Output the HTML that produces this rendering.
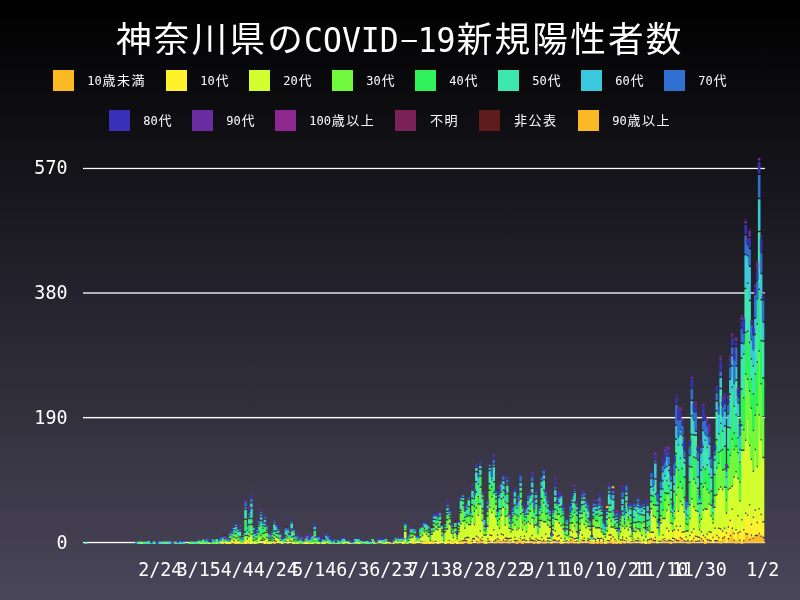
<!DOCTYPE html>
<html lang="ja"><head><meta charset="utf-8"><title>神奈川県のCOVID-19新規陽性者数</title>
<style>
html,body{margin:0;padding:0;}
body{width:800px;height:600px;overflow:hidden;background:#000 linear-gradient(to bottom,#000000,#4a465a);position:relative;}
svg{position:absolute;left:0;top:0;display:block;}
text{fill:#fff;}
.l{font-family:"DejaVu Sans Mono","Liberation Mono",monospace;}
.j{font-family:"Noto Sans CJK JP","IPAGothic",sans-serif;}
</style></head><body>
<svg width="800" height="600" viewBox="0 0 800 600">
<text class="j" x="115.89" y="51.50" font-size="35.59" letter-spacing="2.27">神奈川県の</text><text class="l" transform="translate(304.05,52.10) scale(1,1.045)" font-size="31.45">COVID</text><text class="l" text-anchor="middle" transform="translate(408.17,52.10) scale(1.9,0.8) translate(0.5,-5.03)" font-size="31.45">-</text><text class="l" transform="translate(417.63,52.10) scale(1,1.045)" font-size="31.45">19</text><text class="j" x="456.63" y="51.50" font-size="35.59" letter-spacing="2.27">新規陽性者数</text>
<rect x="53" y="70" width="21" height="21" fill="#FDB924"/><text class="l" x="87.20" y="84.90" font-size="12.04">10</text><text class="j" x="102.42" y="84.60" font-size="13.05" letter-spacing="1.45">歳未満</text>
<rect x="166" y="70" width="21" height="21" fill="#FFF22D"/><text class="l" x="200.20" y="84.90" font-size="12.04">10</text><text class="j" x="215.42" y="84.60" font-size="13.05" letter-spacing="1.45">代</text>
<rect x="249" y="70" width="21" height="21" fill="#D2FF2D"/><text class="l" x="283.20" y="84.90" font-size="12.04">20</text><text class="j" x="298.43" y="84.60" font-size="13.05" letter-spacing="1.45">代</text>
<rect x="332" y="70" width="21" height="21" fill="#70F93C"/><text class="l" x="366.20" y="84.90" font-size="12.04">30</text><text class="j" x="381.43" y="84.60" font-size="13.05" letter-spacing="1.45">代</text>
<rect x="415" y="70" width="21" height="21" fill="#30F25A"/><text class="l" x="449.20" y="84.90" font-size="12.04">40</text><text class="j" x="464.43" y="84.60" font-size="13.05" letter-spacing="1.45">代</text>
<rect x="498" y="70" width="21" height="21" fill="#3CE8B0"/><text class="l" x="532.20" y="84.90" font-size="12.04">50</text><text class="j" x="547.43" y="84.60" font-size="13.05" letter-spacing="1.45">代</text>
<rect x="581" y="70" width="21" height="21" fill="#3AC8DC"/><text class="l" x="615.20" y="84.90" font-size="12.04">60</text><text class="j" x="630.43" y="84.60" font-size="13.05" letter-spacing="1.45">代</text>
<rect x="664" y="70" width="21" height="21" fill="#3070D0"/><text class="l" x="698.20" y="84.90" font-size="12.04">70</text><text class="j" x="713.43" y="84.60" font-size="13.05" letter-spacing="1.45">代</text>
<rect x="109" y="110" width="21" height="21" fill="#3830B8"/><text class="l" x="143.20" y="124.90" font-size="12.04">80</text><text class="j" x="158.42" y="124.60" font-size="13.05" letter-spacing="1.45">代</text>
<rect x="192" y="110" width="21" height="21" fill="#6A2CA0"/><text class="l" x="226.20" y="124.90" font-size="12.04">90</text><text class="j" x="241.42" y="124.60" font-size="13.05" letter-spacing="1.45">代</text>
<rect x="275" y="110" width="21" height="21" fill="#8E2890"/><text class="l" x="309.20" y="124.90" font-size="12.04">100</text><text class="j" x="331.68" y="124.60" font-size="13.05" letter-spacing="1.45">歳以上</text>
<rect x="395" y="110" width="21" height="21" fill="#7A2258"/><text class="j" x="429.93" y="124.60" font-size="13.05" letter-spacing="1.45">不明</text>
<rect x="479" y="110" width="21" height="21" fill="#601C1C"/><text class="j" x="513.93" y="124.60" font-size="13.05" letter-spacing="1.45">非公表</text>
<rect x="578" y="110" width="21" height="21" fill="#FDB924"/><text class="l" x="612.20" y="124.90" font-size="12.04">90</text><text class="j" x="627.43" y="124.60" font-size="13.05" letter-spacing="1.45">歳以上</text>
<text class="l" transform="translate(34.35,173.85) scale(1,1.045)" font-size="18.36">570</text>
<text class="l" transform="translate(34.35,298.85) scale(1,1.045)" font-size="18.36">380</text>
<text class="l" transform="translate(34.35,423.85) scale(1,1.045)" font-size="18.36">190</text>
<text class="l" transform="translate(56.45,548.85) scale(1,1.045)" font-size="18.36">0</text>
<text class="l" transform="translate(138.20,575.60) scale(1,1.045)" font-size="18.36">2/24</text>
<text class="l" transform="translate(176.70,575.60) scale(1,1.045)" font-size="18.36">3/15</text>
<text class="l" transform="translate(220.73,575.60) scale(1,1.045)" font-size="18.36">4/4</text>
<text class="l" transform="translate(253.70,575.60) scale(1,1.045)" font-size="18.36">4/24</text>
<text class="l" transform="translate(292.20,575.60) scale(1,1.045)" font-size="18.36">5/14</text>
<text class="l" transform="translate(336.23,575.60) scale(1,1.045)" font-size="18.36">6/3</text>
<text class="l" transform="translate(369.20,575.60) scale(1,1.045)" font-size="18.36">6/23</text>
<text class="l" transform="translate(407.70,575.60) scale(1,1.045)" font-size="18.36">7/13</text>
<text class="l" transform="translate(451.73,575.60) scale(1,1.045)" font-size="18.36">8/2</text>
<text class="l" transform="translate(484.70,575.60) scale(1,1.045)" font-size="18.36">8/22</text>
<text class="l" transform="translate(523.20,575.60) scale(1,1.045)" font-size="18.36">9/11</text>
<text class="l" transform="translate(561.70,575.60) scale(1,1.045)" font-size="18.36">10/1</text>
<text class="l" transform="translate(594.67,575.60) scale(1,1.045)" font-size="18.36">10/21</text>
<text class="l" transform="translate(633.17,575.60) scale(1,1.045)" font-size="18.36">11/10</text>
<text class="l" transform="translate(671.67,575.60) scale(1,1.045)" font-size="18.36">11/30</text>
<text class="l" transform="translate(746.25,575.60) scale(1,1.045)" font-size="18.36">1/2</text>
<rect x="83" y="167.85" width="682" height="1.25" fill="#fff"/>
<rect x="83" y="292.35" width="682" height="1.3" fill="#fff"/>
<rect x="83" y="416.95" width="682" height="1.4" fill="#fff"/>
<rect x="83" y="541.85" width="682" height="1.35" fill="#fff"/>
<path fill="#FDB924" d="M221.17 542.20h2.60V544.04h-2.60zM225.02 542.20h2.60V544.04h-2.60zM232.71 542.20h2.60V543.39h-2.60zM234.64 542.20h2.60V544.04h-2.60zM236.56 542.20h2.60V544.04h-2.60zM238.48 542.20h2.60V544.04h-2.60zM242.33 542.20h2.60V544.04h-2.60zM246.18 542.20h2.60V544.04h-2.60zM265.42 542.20h2.60V544.04h-2.60zM269.26 542.20h2.60V544.04h-2.60zM273.11 542.20h2.60V544.04h-2.60zM275.04 542.20h2.60V542.73h-2.60zM307.74 542.20h2.60V544.04h-2.60zM353.91 542.20h2.60V544.04h-2.60zM384.69 542.20h2.60V544.04h-2.60zM388.53 542.20h2.60V544.04h-2.60zM392.38 542.20h2.60V544.04h-2.60zM411.62 542.20h2.60V544.04h-2.60zM423.16 542.20h2.60V544.04h-2.60zM425.08 542.20h2.60V544.04h-2.60zM427.01 542.20h2.60V544.04h-2.60zM428.93 542.20h2.60V544.04h-2.60zM430.85 542.20h2.60V544.04h-2.60zM438.55 542.20h2.60V543.39h-2.60zM446.24 542.20h2.60V543.39h-2.60zM448.17 542.20h2.60V543.39h-2.60zM450.09 542.20h2.60V544.04h-2.60zM452.02 542.20h2.60V544.04h-2.60zM453.94 542.20h2.60V542.73h-2.60zM457.79 542.20h2.60V544.04h-2.60zM459.71 542.20h2.60V544.04h-2.60zM461.63 542.20h2.60V544.04h-2.60zM463.56 540.92h2.60V542.70h-2.60zM465.48 541.57h2.60V542.70h-2.60zM467.41 542.20h2.60V544.04h-2.60zM469.33 542.20h2.60V544.04h-2.60zM471.25 542.20h2.60V542.73h-2.60zM475.10 542.20h2.60V542.73h-2.60zM477.02 542.20h2.60V543.39h-2.60zM478.95 540.26h2.60V542.70h-2.60zM480.87 541.57h2.60V542.70h-2.60zM482.79 542.20h2.60V543.39h-2.60zM484.72 542.20h2.60V544.04h-2.60zM486.64 542.20h2.60V542.73h-2.60zM488.57 542.20h2.60V542.73h-2.60zM492.41 542.20h2.60V542.73h-2.60zM494.34 542.20h2.60V543.39h-2.60zM496.26 539.60h2.60V542.70h-2.60zM498.18 542.20h2.60V542.73h-2.60zM500.11 542.20h2.60V543.39h-2.60zM502.03 540.92h2.60V542.70h-2.60zM503.96 542.20h2.60V542.73h-2.60zM505.88 540.92h2.60V542.70h-2.60zM507.80 542.20h2.60V543.39h-2.60zM509.73 542.20h2.60V542.73h-2.60zM511.65 542.20h2.60V542.73h-2.60zM513.57 541.57h2.60V542.70h-2.60zM515.50 542.20h2.60V544.04h-2.60zM517.42 540.92h2.60V542.70h-2.60zM519.34 538.95h2.60V542.70h-2.60zM521.27 542.20h2.60V544.04h-2.60zM523.19 540.26h2.60V542.70h-2.60zM527.04 542.20h2.60V542.73h-2.60zM528.96 540.92h2.60V542.70h-2.60zM530.89 540.92h2.60V542.70h-2.60zM532.81 542.20h2.60V544.04h-2.60zM534.73 542.20h2.60V542.73h-2.60zM536.66 542.20h2.60V544.04h-2.60zM538.58 542.20h2.60V543.39h-2.60zM540.51 542.20h2.60V542.73h-2.60zM542.43 542.20h2.60V543.39h-2.60zM544.35 542.20h2.60V543.39h-2.60zM546.28 541.57h2.60V542.70h-2.60zM548.20 542.20h2.60V542.73h-2.60zM552.05 540.92h2.60V542.70h-2.60zM553.97 540.92h2.60V542.70h-2.60zM555.90 542.20h2.60V542.73h-2.60zM557.82 541.57h2.60V542.70h-2.60zM559.74 542.20h2.60V544.04h-2.60zM563.59 542.20h2.60V542.73h-2.60zM567.44 542.20h2.60V543.39h-2.60zM569.36 540.92h2.60V542.70h-2.60zM571.28 538.29h2.60V542.70h-2.60zM573.21 542.20h2.60V543.39h-2.60zM575.13 542.20h2.60V542.73h-2.60zM578.98 541.57h2.60V542.70h-2.60zM580.90 540.92h2.60V542.70h-2.60zM582.83 541.57h2.60V542.70h-2.60zM584.75 542.20h2.60V542.73h-2.60zM586.67 541.57h2.60V542.70h-2.60zM588.60 542.20h2.60V543.39h-2.60zM590.52 542.20h2.60V544.04h-2.60zM592.45 542.20h2.60V544.04h-2.60zM594.37 542.20h2.60V542.73h-2.60zM596.29 542.20h2.60V544.04h-2.60zM598.22 541.57h2.60V542.70h-2.60zM600.14 542.20h2.60V544.04h-2.60zM602.06 542.20h2.60V542.73h-2.60zM603.99 542.20h2.60V544.04h-2.60zM605.91 542.20h2.60V543.39h-2.60zM607.84 541.57h2.60V542.70h-2.60zM609.76 539.60h2.60V542.70h-2.60zM611.68 542.20h2.60V544.04h-2.60zM613.61 542.20h2.60V543.39h-2.60zM615.53 542.20h2.60V544.04h-2.60zM619.38 542.20h2.60V544.04h-2.60zM621.30 540.26h2.60V542.70h-2.60zM623.22 542.20h2.60V543.39h-2.60zM625.15 542.20h2.60V542.73h-2.60zM627.07 542.20h2.60V542.73h-2.60zM629.00 542.20h2.60V543.39h-2.60zM630.92 542.20h2.60V542.73h-2.60zM632.84 541.57h2.60V542.70h-2.60zM636.69 541.57h2.60V542.70h-2.60zM638.61 542.20h2.60V542.73h-2.60zM646.31 542.20h2.60V543.39h-2.60zM648.23 542.20h2.60V544.04h-2.60zM650.16 539.60h2.60V542.70h-2.60zM652.08 540.92h2.60V542.70h-2.60zM654.00 541.57h2.60V542.70h-2.60zM655.93 542.20h2.60V543.39h-2.60zM661.70 540.26h2.60V542.70h-2.60zM663.62 540.92h2.60V542.70h-2.60zM665.55 542.20h2.60V542.73h-2.60zM667.47 540.92h2.60V542.70h-2.60zM669.39 542.20h2.60V544.04h-2.60zM671.32 542.20h2.60V542.73h-2.60zM673.24 539.60h2.60V542.70h-2.60zM675.16 540.92h2.60V542.70h-2.60zM677.09 541.57h2.60V542.70h-2.60zM679.01 538.29h2.60V542.70h-2.60zM680.94 539.60h2.60V542.70h-2.60zM682.86 541.57h2.60V542.70h-2.60zM684.78 542.20h2.60V542.73h-2.60zM686.71 542.20h2.60V543.39h-2.60zM688.63 542.20h2.60V543.39h-2.60zM690.55 541.57h2.60V542.70h-2.60zM692.48 538.95h2.60V542.70h-2.60zM694.40 542.20h2.60V542.73h-2.60zM696.33 542.20h2.60V542.73h-2.60zM698.25 541.57h2.60V542.70h-2.60zM700.17 539.60h2.60V542.70h-2.60zM702.10 541.57h2.60V542.70h-2.60zM704.02 542.20h2.60V544.04h-2.60zM705.94 540.26h2.60V542.70h-2.60zM707.87 540.92h2.60V542.70h-2.60zM709.79 541.57h2.60V542.70h-2.60zM713.64 541.57h2.60V542.70h-2.60zM715.56 541.57h2.60V542.70h-2.60zM717.49 538.29h2.60V542.70h-2.60zM719.41 542.20h2.60V543.39h-2.60zM721.33 538.95h2.60V542.70h-2.60zM723.26 537.63h2.60V542.70h-2.60zM727.10 539.60h2.60V542.70h-2.60zM729.03 536.32h2.60V542.70h-2.60zM730.95 529.09h2.60V542.70h-2.60zM732.88 540.92h2.60V542.70h-2.60zM734.80 542.20h2.60V543.39h-2.60zM736.72 533.69h2.60V542.70h-2.60zM738.65 540.92h2.60V542.70h-2.60zM740.57 542.20h2.60V544.04h-2.60zM742.49 541.57h2.60V542.70h-2.60zM744.42 534.35h2.60V542.70h-2.60zM746.34 535.00h2.60V542.70h-2.60zM748.27 540.26h2.60V542.70h-2.60zM750.19 535.66h2.60V542.70h-2.60zM752.11 538.95h2.60V542.70h-2.60zM754.04 536.32h2.60V542.70h-2.60zM755.96 536.32h2.60V542.70h-2.60zM757.88 534.35h2.60V542.70h-2.60zM759.81 536.97h2.60V542.70h-2.60zM761.73 538.29h2.60V542.70h-2.60z"/>
<path fill="#FFF22D" d="M215.40 542.20h2.60V544.04h-2.60zM221.17 541.54h2.60V543.39h-2.60zM225.02 541.54h2.60V543.39h-2.60zM226.94 542.20h2.60V544.04h-2.60zM232.71 540.89h2.60V541.42h-2.60zM234.64 541.54h2.60V543.39h-2.60zM236.56 541.54h2.60V543.39h-2.60zM242.33 541.54h2.60V542.07h-2.60zM244.26 542.20h2.60V544.04h-2.60zM248.10 542.20h2.60V543.39h-2.60zM250.03 542.20h2.60V544.04h-2.60zM251.95 542.20h2.60V543.39h-2.60zM261.57 540.92h2.60V542.70h-2.60zM263.49 542.20h2.60V544.04h-2.60zM267.34 542.20h2.60V544.04h-2.60zM273.11 541.54h2.60V542.07h-2.60zM286.58 542.20h2.60V543.39h-2.60zM290.42 542.20h2.60V542.73h-2.60zM292.35 542.20h2.60V544.04h-2.60zM303.89 542.20h2.60V544.04h-2.60zM305.81 542.20h2.60V544.04h-2.60zM309.66 542.20h2.60V544.04h-2.60zM313.51 542.20h2.60V542.73h-2.60zM317.36 542.20h2.60V544.04h-2.60zM321.20 542.20h2.60V544.04h-2.60zM323.13 542.20h2.60V544.04h-2.60zM402.00 542.20h2.60V544.04h-2.60zM413.54 542.20h2.60V543.39h-2.60zM419.31 542.20h2.60V542.73h-2.60zM421.24 542.20h2.60V543.39h-2.60zM423.16 541.54h2.60V543.39h-2.60zM425.08 541.54h2.60V543.39h-2.60zM428.93 541.54h2.60V543.39h-2.60zM430.85 541.54h2.60V542.73h-2.60zM432.78 542.20h2.60V543.39h-2.60zM434.70 542.20h2.60V542.73h-2.60zM436.63 542.20h2.60V544.04h-2.60zM438.55 540.89h2.60V542.73h-2.60zM444.32 542.20h2.60V544.04h-2.60zM446.24 540.89h2.60V542.73h-2.60zM448.17 540.89h2.60V542.07h-2.60zM450.09 541.54h2.60V543.39h-2.60zM452.02 541.54h2.60V543.39h-2.60zM453.94 540.23h2.60V542.07h-2.60zM455.86 542.20h2.60V544.04h-2.60zM457.79 541.54h2.60V542.73h-2.60zM459.71 541.54h2.60V542.73h-2.60zM461.63 541.54h2.60V542.07h-2.60zM463.56 538.92h2.60V539.45h-2.60zM465.48 538.29h2.60V540.07h-2.60zM467.41 538.29h2.60V542.04h-2.60zM469.33 541.54h2.60V542.73h-2.60zM471.25 539.60h2.60V540.73h-2.60zM473.18 539.60h2.60V542.70h-2.60zM475.10 536.97h2.60V540.73h-2.60zM477.02 538.29h2.60V541.39h-2.60zM478.95 531.72h2.60V538.76h-2.60zM480.87 538.29h2.60V540.07h-2.60zM482.79 540.89h2.60V542.73h-2.60zM484.72 541.54h2.60V543.39h-2.60zM486.64 539.60h2.60V540.73h-2.60zM488.57 535.66h2.60V540.73h-2.60zM490.49 536.32h2.60V542.70h-2.60zM492.41 530.41h2.60V540.73h-2.60zM494.34 540.89h2.60V541.42h-2.60zM496.26 535.66h2.60V538.10h-2.60zM498.18 540.23h2.60V541.42h-2.60zM500.11 535.00h2.60V541.39h-2.60zM502.03 535.66h2.60V539.42h-2.60zM503.96 538.95h2.60V540.73h-2.60zM505.88 538.92h2.60V539.45h-2.60zM507.80 539.60h2.60V541.39h-2.60zM509.73 538.95h2.60V540.73h-2.60zM511.65 540.23h2.60V542.07h-2.60zM513.57 538.29h2.60V540.07h-2.60zM515.50 541.54h2.60V542.07h-2.60zM517.42 538.92h2.60V540.76h-2.60zM519.34 536.95h2.60V538.13h-2.60zM521.27 540.92h2.60V542.04h-2.60zM523.19 536.97h2.60V538.76h-2.60zM525.12 541.57h2.60V542.70h-2.60zM527.04 540.23h2.60V542.07h-2.60zM528.96 538.92h2.60V539.45h-2.60zM530.89 536.32h2.60V539.42h-2.60zM532.81 541.54h2.60V542.07h-2.60zM534.73 539.60h2.60V540.73h-2.60zM536.66 540.92h2.60V542.04h-2.60zM538.58 540.89h2.60V542.07h-2.60zM540.51 538.29h2.60V540.73h-2.60zM542.43 540.89h2.60V541.42h-2.60zM544.35 535.00h2.60V541.39h-2.60zM546.28 538.95h2.60V540.07h-2.60zM548.20 538.95h2.60V540.73h-2.60zM550.12 542.20h2.60V543.39h-2.60zM552.05 535.66h2.60V539.42h-2.60zM553.97 531.72h2.60V539.42h-2.60zM555.90 536.97h2.60V540.73h-2.60zM557.82 536.32h2.60V540.07h-2.60zM559.74 538.95h2.60V542.04h-2.60zM561.67 542.20h2.60V543.39h-2.60zM565.51 541.57h2.60V542.70h-2.60zM569.36 537.63h2.60V539.42h-2.60zM571.28 532.38h2.60V536.79h-2.60zM573.21 539.60h2.60V541.39h-2.60zM575.13 538.95h2.60V540.73h-2.60zM577.06 542.20h2.60V543.39h-2.60zM578.98 539.57h2.60V541.42h-2.60zM580.90 535.66h2.60V539.42h-2.60zM582.83 538.95h2.60V540.07h-2.60zM584.75 540.23h2.60V542.07h-2.60zM586.67 539.57h2.60V540.10h-2.60zM588.60 540.26h2.60V541.39h-2.60zM590.52 541.54h2.60V542.07h-2.60zM592.45 539.60h2.60V542.04h-2.60zM594.37 540.23h2.60V540.76h-2.60zM596.29 538.95h2.60V542.04h-2.60zM598.22 539.57h2.60V540.10h-2.60zM600.14 538.95h2.60V542.04h-2.60zM602.06 540.23h2.60V540.76h-2.60zM603.99 541.54h2.60V543.39h-2.60zM605.91 540.89h2.60V542.07h-2.60zM607.84 535.66h2.60V540.07h-2.60zM609.76 535.66h2.60V538.10h-2.60zM611.68 537.63h2.60V542.04h-2.60zM613.61 540.26h2.60V541.39h-2.60zM615.53 541.54h2.60V542.73h-2.60zM619.38 540.92h2.60V542.04h-2.60zM621.30 537.63h2.60V538.76h-2.60zM623.22 540.89h2.60V542.07h-2.60zM625.15 538.95h2.60V540.73h-2.60zM627.07 540.23h2.60V542.07h-2.60zM629.00 536.97h2.60V541.39h-2.60zM632.84 539.57h2.60V540.76h-2.60zM634.77 541.57h2.60V542.70h-2.60zM636.69 538.95h2.60V540.07h-2.60zM638.61 540.23h2.60V541.42h-2.60zM640.54 542.20h2.60V543.39h-2.60zM642.46 540.92h2.60V542.70h-2.60zM644.39 542.20h2.60V544.04h-2.60zM646.31 540.89h2.60V541.42h-2.60zM648.23 540.26h2.60V542.04h-2.60zM650.16 533.03h2.60V538.10h-2.60zM652.08 533.03h2.60V539.42h-2.60zM654.00 538.29h2.60V540.07h-2.60zM655.93 540.89h2.60V542.73h-2.60zM657.85 542.20h2.60V542.73h-2.60zM659.77 542.20h2.60V542.73h-2.60zM661.70 535.66h2.60V538.76h-2.60zM663.62 538.92h2.60V540.10h-2.60zM665.55 529.09h2.60V540.73h-2.60zM667.47 531.72h2.60V539.42h-2.60zM669.39 541.54h2.60V542.07h-2.60zM671.32 538.95h2.60V540.73h-2.60zM673.24 530.41h2.60V538.10h-2.60zM675.16 527.12h2.60V539.42h-2.60zM677.09 531.06h2.60V540.07h-2.60zM679.01 527.12h2.60V536.79h-2.60zM680.94 533.03h2.60V538.10h-2.60zM682.86 532.38h2.60V540.07h-2.60zM684.78 537.63h2.60V540.73h-2.60zM686.71 540.89h2.60V541.42h-2.60zM688.63 536.32h2.60V541.39h-2.60zM690.55 533.03h2.60V540.07h-2.60zM692.48 529.75h2.60V537.45h-2.60zM694.40 536.97h2.60V540.73h-2.60zM696.33 537.63h2.60V540.73h-2.60zM698.25 538.29h2.60V540.07h-2.60zM700.17 532.38h2.60V538.10h-2.60zM702.10 536.32h2.60V540.07h-2.60zM704.02 538.29h2.60V542.04h-2.60zM705.94 535.00h2.60V538.76h-2.60zM707.87 532.38h2.60V539.42h-2.60zM709.79 533.03h2.60V540.07h-2.60zM711.71 538.29h2.60V542.70h-2.60zM713.64 529.09h2.60V540.07h-2.60zM715.56 536.32h2.60V540.07h-2.60zM717.49 529.09h2.60V536.79h-2.60zM719.41 529.75h2.60V541.39h-2.60zM721.33 531.72h2.60V537.45h-2.60zM723.26 529.09h2.60V536.13h-2.60zM725.18 533.69h2.60V542.70h-2.60zM727.10 527.78h2.60V538.10h-2.60zM729.03 521.21h2.60V534.82h-2.60zM730.95 510.04h2.60V527.59h-2.60zM732.88 534.35h2.60V539.42h-2.60zM734.80 530.41h2.60V541.39h-2.60zM736.72 516.61h2.60V532.19h-2.60zM738.65 532.38h2.60V539.42h-2.60zM740.57 520.55h2.60V542.04h-2.60zM742.49 530.41h2.60V540.07h-2.60zM744.42 513.99h2.60V532.85h-2.60zM746.34 515.96h2.60V533.50h-2.60zM748.27 505.45h2.60V538.76h-2.60zM750.19 525.15h2.60V534.16h-2.60zM752.11 517.93h2.60V537.45h-2.60zM754.04 510.70h2.60V534.82h-2.60zM755.96 523.18h2.60V534.82h-2.60zM757.88 509.39h2.60V532.85h-2.60zM759.81 515.30h2.60V535.47h-2.60zM761.73 522.52h2.60V536.79h-2.60z"/>
<path fill="#D2FF2D" d="M138.45 542.20h2.60V544.04h-2.60zM140.38 542.20h2.60V544.04h-2.60zM161.54 542.20h2.60V544.04h-2.60zM165.38 542.20h2.60V544.04h-2.60zM198.09 542.20h2.60V543.39h-2.60zM200.01 542.20h2.60V544.04h-2.60zM201.93 542.20h2.60V544.04h-2.60zM203.86 542.20h2.60V544.04h-2.60zM207.71 542.20h2.60V544.04h-2.60zM209.63 542.20h2.60V543.39h-2.60zM215.40 541.54h2.60V543.39h-2.60zM219.25 542.20h2.60V543.39h-2.60zM221.17 540.89h2.60V541.42h-2.60zM223.10 542.20h2.60V542.73h-2.60zM228.87 542.20h2.60V544.04h-2.60zM230.79 539.60h2.60V542.70h-2.60zM232.71 537.63h2.60V539.42h-2.60zM234.64 538.95h2.60V541.39h-2.60zM236.56 540.89h2.60V542.07h-2.60zM238.48 541.54h2.60V542.73h-2.60zM240.41 542.20h2.60V544.04h-2.60zM244.26 536.32h2.60V542.04h-2.60zM246.18 539.60h2.60V542.04h-2.60zM248.10 536.97h2.60V541.39h-2.60zM250.03 535.00h2.60V542.04h-2.60zM251.95 540.89h2.60V541.42h-2.60zM253.87 542.20h2.60V544.04h-2.60zM255.80 542.20h2.60V543.39h-2.60zM257.72 536.97h2.60V542.70h-2.60zM259.65 540.92h2.60V542.70h-2.60zM261.57 538.92h2.60V539.45h-2.60zM263.49 540.26h2.60V542.04h-2.60zM265.42 538.29h2.60V542.04h-2.60zM267.34 541.54h2.60V543.39h-2.60zM269.26 541.54h2.60V543.39h-2.60zM271.19 542.20h2.60V542.73h-2.60zM273.11 539.57h2.60V540.10h-2.60zM275.04 537.63h2.60V540.73h-2.60zM276.96 538.95h2.60V542.70h-2.60zM278.88 540.92h2.60V542.70h-2.60zM280.81 542.20h2.60V544.04h-2.60zM284.65 542.20h2.60V542.73h-2.60zM286.58 538.95h2.60V541.39h-2.60zM288.50 541.57h2.60V542.70h-2.60zM290.42 537.63h2.60V540.73h-2.60zM292.35 541.54h2.60V542.73h-2.60zM294.27 542.20h2.60V544.04h-2.60zM296.20 542.20h2.60V544.04h-2.60zM298.12 542.20h2.60V543.39h-2.60zM300.04 542.20h2.60V543.39h-2.60zM303.89 541.54h2.60V542.07h-2.60zM305.81 541.54h2.60V542.07h-2.60zM307.74 541.54h2.60V543.39h-2.60zM309.66 541.54h2.60V543.39h-2.60zM311.59 542.20h2.60V544.04h-2.60zM313.51 538.29h2.60V540.73h-2.60zM317.36 541.54h2.60V543.39h-2.60zM321.20 541.54h2.60V543.39h-2.60zM325.05 540.92h2.60V542.70h-2.60zM326.97 542.20h2.60V543.39h-2.60zM328.90 542.20h2.60V544.04h-2.60zM332.75 542.20h2.60V543.39h-2.60zM334.67 542.20h2.60V544.04h-2.60zM336.59 542.20h2.60V544.04h-2.60zM338.52 542.20h2.60V543.39h-2.60zM342.36 542.20h2.60V544.04h-2.60zM344.29 542.20h2.60V542.73h-2.60zM346.21 542.20h2.60V543.39h-2.60zM348.14 542.20h2.60V544.04h-2.60zM350.06 542.20h2.60V544.04h-2.60zM353.91 541.54h2.60V542.73h-2.60zM355.83 542.20h2.60V543.39h-2.60zM357.75 542.20h2.60V544.04h-2.60zM359.68 542.20h2.60V543.39h-2.60zM365.45 542.20h2.60V544.04h-2.60zM371.22 541.57h2.60V542.70h-2.60zM373.14 542.20h2.60V544.04h-2.60zM375.07 542.20h2.60V543.39h-2.60zM376.99 542.20h2.60V542.73h-2.60zM378.91 540.92h2.60V542.70h-2.60zM380.84 542.20h2.60V543.39h-2.60zM382.76 542.20h2.60V544.04h-2.60zM384.69 541.54h2.60V543.39h-2.60zM390.46 542.20h2.60V543.39h-2.60zM392.38 541.54h2.60V543.39h-2.60zM394.30 540.26h2.60V542.70h-2.60zM396.23 542.20h2.60V543.39h-2.60zM398.15 541.57h2.60V542.70h-2.60zM400.08 542.20h2.60V542.73h-2.60zM402.00 541.54h2.60V542.07h-2.60zM403.92 531.72h2.60V542.70h-2.60zM405.85 542.20h2.60V544.04h-2.60zM407.77 540.92h2.60V542.70h-2.60zM409.69 538.29h2.60V542.70h-2.60zM411.62 537.63h2.60V542.04h-2.60zM413.54 535.66h2.60V541.39h-2.60zM415.47 540.92h2.60V542.70h-2.60zM417.39 540.26h2.60V542.70h-2.60zM419.31 537.63h2.60V540.73h-2.60zM421.24 536.32h2.60V541.39h-2.60zM423.16 532.38h2.60V541.39h-2.60zM425.08 535.00h2.60V541.39h-2.60zM427.01 536.97h2.60V542.04h-2.60zM428.93 540.89h2.60V541.42h-2.60zM430.85 535.00h2.60V540.73h-2.60zM432.78 531.72h2.60V541.39h-2.60zM434.70 529.75h2.60V540.73h-2.60zM436.63 530.41h2.60V542.04h-2.60zM438.55 527.78h2.60V540.73h-2.60zM440.47 536.32h2.60V542.70h-2.60zM442.40 541.57h2.60V542.70h-2.60zM444.32 532.38h2.60V542.04h-2.60zM446.24 529.75h2.60V540.73h-2.60zM448.17 524.49h2.60V540.07h-2.60zM450.09 533.69h2.60V541.39h-2.60zM452.02 538.29h2.60V541.39h-2.60zM453.94 533.03h2.60V540.07h-2.60zM455.86 539.60h2.60V542.04h-2.60zM457.79 532.38h2.60V540.73h-2.60zM459.71 524.49h2.60V540.73h-2.60zM461.63 521.87h2.60V540.07h-2.60zM463.56 529.09h2.60V537.45h-2.60zM465.48 523.18h2.60V536.79h-2.60zM467.41 525.15h2.60V536.79h-2.60zM469.33 525.15h2.60V540.73h-2.60zM471.25 517.27h2.60V538.10h-2.60zM473.18 525.15h2.60V538.10h-2.60zM475.10 508.73h2.60V535.47h-2.60zM477.02 515.96h2.60V536.79h-2.60zM478.95 504.79h2.60V530.22h-2.60zM480.87 521.21h2.60V536.79h-2.60zM482.79 535.66h2.60V540.73h-2.60zM484.72 535.66h2.60V541.39h-2.60zM486.64 527.12h2.60V538.10h-2.60zM488.57 508.07h2.60V534.16h-2.60zM490.49 513.33h2.60V534.82h-2.60zM492.41 509.39h2.60V528.91h-2.60zM494.34 517.27h2.60V539.42h-2.60zM496.26 525.15h2.60V534.16h-2.60zM498.18 529.09h2.60V539.42h-2.60zM500.11 515.96h2.60V533.50h-2.60zM502.03 508.07h2.60V534.16h-2.60zM503.96 525.81h2.60V537.45h-2.60zM505.88 516.61h2.60V537.45h-2.60zM507.80 529.09h2.60V538.10h-2.60zM509.73 532.38h2.60V537.45h-2.60zM511.65 530.41h2.60V540.07h-2.60zM513.57 525.81h2.60V536.79h-2.60zM515.50 530.41h2.60V540.07h-2.60zM517.42 529.09h2.60V538.76h-2.60zM519.34 514.64h2.60V536.13h-2.60zM521.27 530.41h2.60V539.42h-2.60zM523.19 525.15h2.60V535.47h-2.60zM525.12 532.38h2.60V540.07h-2.60zM527.04 522.52h2.60V540.07h-2.60zM528.96 524.49h2.60V537.45h-2.60zM530.89 518.58h2.60V534.82h-2.60zM532.81 527.78h2.60V540.07h-2.60zM534.73 525.81h2.60V538.10h-2.60zM536.66 534.35h2.60V539.42h-2.60zM538.58 527.78h2.60V540.07h-2.60zM540.51 521.21h2.60V536.79h-2.60zM542.43 522.52h2.60V539.42h-2.60zM544.35 522.52h2.60V533.50h-2.60zM546.28 525.81h2.60V537.45h-2.60zM548.20 527.78h2.60V537.45h-2.60zM550.12 540.26h2.60V541.39h-2.60zM552.05 530.41h2.60V534.16h-2.60zM553.97 519.90h2.60V530.22h-2.60zM555.90 520.55h2.60V535.47h-2.60zM557.82 523.84h2.60V534.82h-2.60zM559.74 526.47h2.60V537.45h-2.60zM561.67 529.75h2.60V541.39h-2.60zM563.59 539.60h2.60V540.73h-2.60zM565.51 536.32h2.60V540.07h-2.60zM567.44 538.29h2.60V541.39h-2.60zM569.36 531.06h2.60V536.13h-2.60zM571.28 523.84h2.60V530.88h-2.60zM573.21 527.12h2.60V538.10h-2.60zM575.13 532.38h2.60V537.45h-2.60zM577.06 540.89h2.60V541.42h-2.60zM578.98 531.06h2.60V539.42h-2.60zM580.90 518.58h2.60V534.16h-2.60zM582.83 525.15h2.60V537.45h-2.60zM584.75 528.44h2.60V540.07h-2.60zM586.67 527.12h2.60V538.10h-2.60zM588.60 530.41h2.60V538.76h-2.60zM590.52 539.57h2.60V541.42h-2.60zM592.45 527.12h2.60V538.10h-2.60zM594.37 528.44h2.60V538.76h-2.60zM596.29 528.44h2.60V537.45h-2.60zM598.22 528.44h2.60V538.10h-2.60zM600.14 532.38h2.60V537.45h-2.60zM602.06 535.00h2.60V538.76h-2.60zM603.99 537.63h2.60V541.39h-2.60zM605.91 531.72h2.60V540.07h-2.60zM607.84 518.58h2.60V534.16h-2.60zM609.76 527.78h2.60V534.16h-2.60zM611.68 527.78h2.60V536.13h-2.60zM613.61 529.09h2.60V538.76h-2.60zM615.53 531.72h2.60V540.73h-2.60zM617.45 539.60h2.60V542.70h-2.60zM619.38 532.38h2.60V539.42h-2.60zM621.30 527.12h2.60V536.13h-2.60zM623.22 529.09h2.60V540.07h-2.60zM625.15 527.12h2.60V537.45h-2.60zM627.07 530.41h2.60V540.07h-2.60zM629.00 527.78h2.60V535.47h-2.60zM630.92 539.60h2.60V540.73h-2.60zM632.84 531.72h2.60V538.76h-2.60zM634.77 532.38h2.60V540.07h-2.60zM636.69 529.75h2.60V537.45h-2.60zM638.61 531.72h2.60V539.42h-2.60zM640.54 536.32h2.60V541.39h-2.60zM642.46 528.44h2.60V539.42h-2.60zM644.39 537.63h2.60V542.04h-2.60zM646.31 531.06h2.60V539.42h-2.60zM648.23 532.38h2.60V538.76h-2.60zM650.16 509.39h2.60V531.53h-2.60zM652.08 516.61h2.60V531.53h-2.60zM654.00 517.93h2.60V536.79h-2.60zM655.93 528.44h2.60V540.73h-2.60zM657.85 535.66h2.60V540.73h-2.60zM659.77 523.84h2.60V540.73h-2.60zM661.70 519.24h2.60V534.16h-2.60zM663.62 519.24h2.60V538.10h-2.60zM665.55 511.36h2.60V527.59h-2.60zM667.47 505.45h2.60V530.22h-2.60zM669.39 523.84h2.60V540.07h-2.60zM671.32 531.72h2.60V537.45h-2.60zM673.24 519.24h2.60V528.91h-2.60zM675.16 495.59h2.60V525.62h-2.60zM677.09 512.01h2.60V529.56h-2.60zM679.01 502.16h2.60V525.62h-2.60zM680.94 505.45h2.60V531.53h-2.60zM682.86 512.67h2.60V530.88h-2.60zM684.78 531.72h2.60V536.13h-2.60zM686.71 531.72h2.60V539.42h-2.60zM688.63 519.24h2.60V534.82h-2.60zM690.55 499.53h2.60V531.53h-2.60zM692.48 507.42h2.60V528.25h-2.60zM694.40 511.36h2.60V535.47h-2.60zM696.33 512.01h2.60V536.13h-2.60zM698.25 530.41h2.60V536.79h-2.60zM700.17 519.90h2.60V530.88h-2.60zM702.10 510.70h2.60V534.82h-2.60zM704.02 509.39h2.60V536.79h-2.60zM705.94 510.04h2.60V533.50h-2.60zM707.87 504.79h2.60V530.88h-2.60zM709.79 516.61h2.60V531.53h-2.60zM711.71 523.84h2.60V536.79h-2.60zM713.64 508.07h2.60V527.59h-2.60zM715.56 495.59h2.60V534.82h-2.60zM717.49 490.34h2.60V527.59h-2.60zM719.41 487.71h2.60V528.25h-2.60zM721.33 490.34h2.60V530.22h-2.60zM723.26 487.71h2.60V527.59h-2.60zM725.18 513.99h2.60V532.19h-2.60zM727.10 490.34h2.60V526.28h-2.60zM729.03 489.03h2.60V519.71h-2.60zM730.95 487.05h2.60V508.54h-2.60zM732.88 477.86h2.60V532.85h-2.60zM734.80 472.60h2.60V528.91h-2.60zM736.72 479.17h2.60V515.11h-2.60zM738.65 501.51h2.60V530.88h-2.60zM740.57 450.93h2.60V519.05h-2.60zM742.49 450.93h2.60V528.91h-2.60zM744.42 441.08h2.60V512.49h-2.60zM746.34 418.74h2.60V514.46h-2.60zM748.27 446.33h2.60V503.95h-2.60zM750.19 460.12h2.60V523.65h-2.60zM752.11 471.95h2.60V516.43h-2.60zM754.04 450.27h2.60V509.20h-2.60zM755.96 467.35h2.60V521.68h-2.60zM757.88 415.46h2.60V507.89h-2.60zM759.81 440.42h2.60V513.80h-2.60zM761.73 458.15h2.60V521.02h-2.60z"/>
<path fill="#70F93C" d="M148.07 542.20h2.60V544.04h-2.60zM149.99 542.20h2.60V544.04h-2.60zM163.46 542.20h2.60V544.04h-2.60zM173.08 542.20h2.60V543.39h-2.60zM176.93 542.20h2.60V544.04h-2.60zM180.77 542.20h2.60V543.39h-2.60zM188.47 542.20h2.60V544.04h-2.60zM190.39 542.20h2.60V544.04h-2.60zM196.16 542.20h2.60V544.04h-2.60zM200.01 541.54h2.60V543.39h-2.60zM201.93 541.54h2.60V543.39h-2.60zM205.78 542.20h2.60V544.04h-2.60zM207.71 541.54h2.60V542.73h-2.60zM211.55 542.20h2.60V544.04h-2.60zM213.48 542.20h2.60V544.04h-2.60zM215.40 540.89h2.60V542.07h-2.60zM221.17 538.92h2.60V540.76h-2.60zM223.10 540.23h2.60V541.42h-2.60zM225.02 540.89h2.60V542.07h-2.60zM226.94 541.54h2.60V542.07h-2.60zM228.87 541.54h2.60V542.07h-2.60zM230.79 537.60h2.60V538.79h-2.60zM232.71 534.35h2.60V536.13h-2.60zM234.64 534.35h2.60V537.45h-2.60zM236.56 538.29h2.60V540.07h-2.60zM238.48 540.23h2.60V541.42h-2.60zM240.41 541.54h2.60V543.39h-2.60zM242.33 539.57h2.60V540.76h-2.60zM244.26 532.38h2.60V534.82h-2.60zM246.18 536.32h2.60V538.10h-2.60zM248.10 533.03h2.60V535.47h-2.60zM250.03 525.15h2.60V533.50h-2.60zM251.95 537.63h2.60V539.42h-2.60zM253.87 540.26h2.60V542.04h-2.60zM255.80 539.60h2.60V541.39h-2.60zM257.72 534.97h2.60V536.82h-2.60zM259.65 536.32h2.60V539.42h-2.60zM261.57 534.35h2.60V537.45h-2.60zM263.49 533.69h2.60V538.76h-2.60zM265.42 533.03h2.60V536.79h-2.60zM267.34 540.89h2.60V542.07h-2.60zM269.26 540.89h2.60V541.42h-2.60zM271.19 540.23h2.60V541.42h-2.60zM273.11 536.32h2.60V538.10h-2.60zM275.04 534.35h2.60V536.13h-2.60zM278.88 538.92h2.60V540.10h-2.60zM280.81 540.92h2.60V542.04h-2.60zM282.73 542.20h2.60V542.73h-2.60zM284.65 538.29h2.60V540.73h-2.60zM286.58 536.95h2.60V538.13h-2.60zM288.50 538.29h2.60V540.07h-2.60zM290.42 531.72h2.60V536.13h-2.60zM292.35 540.23h2.60V540.76h-2.60zM294.27 541.54h2.60V543.39h-2.60zM298.12 540.89h2.60V542.73h-2.60zM301.97 542.20h2.60V544.04h-2.60zM303.89 539.57h2.60V540.76h-2.60zM305.81 539.57h2.60V540.76h-2.60zM307.74 540.89h2.60V542.73h-2.60zM311.59 541.54h2.60V542.73h-2.60zM313.51 534.35h2.60V536.79h-2.60zM315.43 542.20h2.60V544.04h-2.60zM321.20 540.89h2.60V542.07h-2.60zM323.13 541.54h2.60V542.73h-2.60zM325.05 538.29h2.60V539.42h-2.60zM326.97 540.89h2.60V542.73h-2.60zM328.90 541.54h2.60V543.39h-2.60zM330.82 542.20h2.60V544.04h-2.60zM332.75 540.89h2.60V542.73h-2.60zM336.59 541.54h2.60V543.39h-2.60zM340.44 542.20h2.60V543.39h-2.60zM342.36 541.54h2.60V542.07h-2.60zM346.21 540.89h2.60V542.07h-2.60zM353.91 540.23h2.60V542.07h-2.60zM355.83 540.89h2.60V542.07h-2.60zM357.75 541.54h2.60V542.73h-2.60zM371.22 539.57h2.60V541.42h-2.60zM373.14 541.54h2.60V543.39h-2.60zM380.84 540.89h2.60V542.73h-2.60zM382.76 541.54h2.60V543.39h-2.60zM392.38 540.89h2.60V542.73h-2.60zM396.23 540.89h2.60V541.42h-2.60zM398.15 539.57h2.60V541.42h-2.60zM400.08 540.23h2.60V541.42h-2.60zM402.00 539.57h2.60V541.42h-2.60zM403.92 528.44h2.60V530.22h-2.60zM405.85 541.54h2.60V543.39h-2.60zM407.77 538.92h2.60V540.10h-2.60zM409.69 534.35h2.60V536.79h-2.60zM411.62 535.00h2.60V536.13h-2.60zM413.54 533.66h2.60V534.19h-2.60zM415.47 538.92h2.60V540.76h-2.60zM417.39 538.26h2.60V540.10h-2.60zM419.31 534.35h2.60V536.13h-2.60zM421.24 530.41h2.60V534.82h-2.60zM423.16 530.38h2.60V531.56h-2.60zM425.08 531.72h2.60V533.50h-2.60zM427.01 533.03h2.60V535.47h-2.60zM428.93 538.29h2.60V539.42h-2.60zM430.85 532.38h2.60V533.50h-2.60zM432.78 527.78h2.60V530.22h-2.60zM434.70 525.15h2.60V528.25h-2.60zM436.63 527.78h2.60V528.91h-2.60zM438.55 521.21h2.60V526.28h-2.60zM440.47 532.38h2.60V534.82h-2.60zM442.40 538.95h2.60V540.07h-2.60zM444.32 529.75h2.60V530.88h-2.60zM446.24 520.55h2.60V528.25h-2.60zM448.17 519.24h2.60V522.99h-2.60zM450.09 531.69h2.60V532.22h-2.60zM452.02 534.35h2.60V536.79h-2.60zM453.94 528.44h2.60V531.53h-2.60zM455.86 536.97h2.60V538.10h-2.60zM457.79 529.75h2.60V530.88h-2.60zM459.71 513.33h2.60V522.99h-2.60zM461.63 506.10h2.60V520.37h-2.60zM463.56 521.21h2.60V527.59h-2.60zM465.48 517.27h2.60V521.68h-2.60zM467.41 516.61h2.60V523.65h-2.60zM469.33 522.52h2.60V523.65h-2.60zM471.25 505.45h2.60V515.77h-2.60zM473.18 512.01h2.60V523.65h-2.60zM475.10 492.97h2.60V507.23h-2.60zM477.02 504.79h2.60V514.46h-2.60zM478.95 487.71h2.60V503.29h-2.60zM480.87 513.99h2.60V519.71h-2.60zM482.79 531.06h2.60V534.16h-2.60zM484.72 531.72h2.60V534.16h-2.60zM486.64 516.61h2.60V525.62h-2.60zM488.57 491.00h2.60V506.57h-2.60zM490.49 497.56h2.60V511.83h-2.60zM492.41 493.62h2.60V507.89h-2.60zM494.34 504.79h2.60V515.77h-2.60zM496.26 521.87h2.60V523.65h-2.60zM498.18 519.90h2.60V527.59h-2.60zM500.11 509.39h2.60V514.46h-2.60zM502.03 498.22h2.60V506.57h-2.60zM503.96 517.27h2.60V524.31h-2.60zM505.88 504.13h2.60V515.11h-2.60zM507.80 523.84h2.60V527.59h-2.60zM509.73 529.75h2.60V530.88h-2.60zM511.65 523.18h2.60V528.91h-2.60zM513.57 514.64h2.60V524.31h-2.60zM515.50 520.55h2.60V528.91h-2.60zM517.42 517.27h2.60V527.59h-2.60zM519.34 499.53h2.60V513.14h-2.60zM521.27 523.18h2.60V528.91h-2.60zM523.19 521.21h2.60V523.65h-2.60zM525.12 523.84h2.60V530.88h-2.60zM527.04 514.64h2.60V521.02h-2.60zM528.96 512.01h2.60V522.99h-2.60zM530.89 502.82h2.60V517.08h-2.60zM532.81 525.78h2.60V526.31h-2.60zM534.73 515.96h2.60V524.31h-2.60zM536.66 532.35h2.60V533.53h-2.60zM538.58 521.21h2.60V526.28h-2.60zM540.51 513.33h2.60V519.71h-2.60zM542.43 503.48h2.60V521.02h-2.60zM544.35 514.64h2.60V521.02h-2.60zM546.28 520.55h2.60V524.31h-2.60zM548.20 521.21h2.60V526.28h-2.60zM550.12 538.26h2.60V540.10h-2.60zM552.05 526.47h2.60V528.91h-2.60zM553.97 510.04h2.60V518.40h-2.60zM555.90 514.64h2.60V519.05h-2.60zM557.82 514.64h2.60V522.34h-2.60zM559.74 517.27h2.60V524.97h-2.60zM561.67 525.15h2.60V528.25h-2.60zM563.59 535.00h2.60V538.10h-2.60zM565.51 529.75h2.60V534.82h-2.60zM567.44 536.29h2.60V538.13h-2.60zM569.36 523.84h2.60V529.56h-2.60zM571.28 517.27h2.60V522.34h-2.60zM573.21 513.33h2.60V525.62h-2.60zM575.13 523.18h2.60V530.88h-2.60zM577.06 538.92h2.60V540.76h-2.60zM578.98 524.49h2.60V529.56h-2.60zM580.90 513.99h2.60V517.08h-2.60zM582.83 512.01h2.60V523.65h-2.60zM584.75 521.87h2.60V526.94h-2.60zM586.67 523.18h2.60V525.62h-2.60zM588.60 527.12h2.60V528.91h-2.60zM590.52 538.92h2.60V540.10h-2.60zM592.45 519.24h2.60V525.62h-2.60zM594.37 521.21h2.60V526.94h-2.60zM596.29 521.87h2.60V526.94h-2.60zM598.22 516.61h2.60V526.94h-2.60zM600.14 529.75h2.60V530.88h-2.60zM602.06 533.00h2.60V533.53h-2.60zM603.99 535.00h2.60V536.13h-2.60zM605.91 526.47h2.60V530.22h-2.60zM607.84 512.67h2.60V517.08h-2.60zM609.76 521.87h2.60V526.28h-2.60zM611.68 517.93h2.60V526.28h-2.60zM613.61 527.09h2.60V527.62h-2.60zM615.53 529.09h2.60V530.22h-2.60zM617.45 536.97h2.60V538.10h-2.60zM619.38 525.15h2.60V530.88h-2.60zM621.30 515.96h2.60V525.62h-2.60zM623.22 524.49h2.60V527.59h-2.60zM625.15 513.33h2.60V525.62h-2.60zM627.07 520.55h2.60V528.91h-2.60zM629.00 524.49h2.60V526.28h-2.60zM630.92 537.60h2.60V538.79h-2.60zM632.84 523.18h2.60V530.22h-2.60zM634.77 528.44h2.60V530.88h-2.60zM636.69 522.52h2.60V528.25h-2.60zM638.61 529.72h2.60V530.25h-2.60zM640.54 523.84h2.60V534.82h-2.60zM642.46 522.52h2.60V526.94h-2.60zM644.39 533.03h2.60V536.13h-2.60zM646.31 528.44h2.60V529.56h-2.60zM648.23 530.38h2.60V531.56h-2.60zM650.16 502.16h2.60V507.89h-2.60zM652.08 505.45h2.60V515.11h-2.60zM654.00 506.10h2.60V516.43h-2.60zM655.93 522.52h2.60V526.94h-2.60zM657.85 533.66h2.60V535.50h-2.60zM659.77 516.61h2.60V522.34h-2.60zM661.70 510.70h2.60V517.74h-2.60zM663.62 500.85h2.60V517.74h-2.60zM665.55 494.28h2.60V509.86h-2.60zM667.47 494.28h2.60V503.95h-2.60zM669.39 512.67h2.60V522.34h-2.60zM671.32 524.49h2.60V530.22h-2.60zM673.24 512.01h2.60V517.74h-2.60zM675.16 468.01h2.60V494.09h-2.60zM677.09 488.37h2.60V510.51h-2.60zM679.01 482.46h2.60V500.66h-2.60zM680.94 489.03h2.60V503.95h-2.60zM682.86 498.22h2.60V511.17h-2.60zM684.78 524.49h2.60V530.22h-2.60zM686.71 525.15h2.60V530.22h-2.60zM688.63 505.45h2.60V517.74h-2.60zM690.55 468.01h2.60V498.03h-2.60zM692.48 479.83h2.60V505.92h-2.60zM694.40 483.77h2.60V509.86h-2.60zM696.33 504.79h2.60V510.51h-2.60zM698.25 522.52h2.60V528.91h-2.60zM700.17 504.13h2.60V518.40h-2.60zM702.10 487.71h2.60V509.20h-2.60zM704.02 483.77h2.60V507.89h-2.60zM705.94 490.34h2.60V508.54h-2.60zM707.87 493.62h2.60V503.29h-2.60zM709.79 506.10h2.60V515.11h-2.60zM711.71 519.90h2.60V522.34h-2.60zM713.64 496.25h2.60V506.57h-2.60zM715.56 468.66h2.60V494.09h-2.60zM717.49 464.07h2.60V488.84h-2.60zM719.41 451.59h2.60V486.21h-2.60zM721.33 470.63h2.60V488.84h-2.60zM723.26 469.98h2.60V486.21h-2.60zM725.18 500.85h2.60V512.49h-2.60zM727.10 468.01h2.60V488.84h-2.60zM729.03 456.18h2.60V487.53h-2.60zM730.95 439.76h2.60V485.55h-2.60zM732.88 450.27h2.60V476.36h-2.60zM734.80 446.99h2.60V471.10h-2.60zM736.72 453.56h2.60V477.67h-2.60zM738.65 483.11h2.60V500.01h-2.60zM740.57 425.97h2.60V449.43h-2.60zM742.49 430.57h2.60V449.43h-2.60zM744.42 374.73h2.60V439.58h-2.60zM746.34 379.99h2.60V417.24h-2.60zM748.27 391.81h2.60V444.83h-2.60zM750.19 408.89h2.60V458.62h-2.60zM752.11 431.22h2.60V470.45h-2.60zM754.04 416.12h2.60V448.77h-2.60zM755.96 405.61h2.60V465.85h-2.60zM757.88 351.75h2.60V413.96h-2.60zM759.81 384.59h2.60V438.92h-2.60zM761.73 417.43h2.60V456.65h-2.60z"/>
<path fill="#30F25A" d="M142.30 542.20h2.60V544.04h-2.60zM144.22 542.20h2.60V544.04h-2.60zM148.07 541.54h2.60V543.39h-2.60zM151.92 542.20h2.60V544.04h-2.60zM153.84 542.20h2.60V544.04h-2.60zM169.23 542.20h2.60V544.04h-2.60zM178.85 542.20h2.60V544.04h-2.60zM190.39 541.54h2.60V543.39h-2.60zM194.24 542.20h2.60V544.04h-2.60zM200.01 540.89h2.60V542.73h-2.60zM201.93 540.89h2.60V542.07h-2.60zM205.78 541.54h2.60V542.07h-2.60zM211.55 541.54h2.60V542.73h-2.60zM215.40 539.57h2.60V541.42h-2.60zM217.32 542.20h2.60V544.04h-2.60zM223.10 538.92h2.60V539.45h-2.60zM226.94 539.57h2.60V541.42h-2.60zM228.87 539.57h2.60V540.10h-2.60zM230.79 536.29h2.60V537.47h-2.60zM232.71 532.35h2.60V533.53h-2.60zM234.64 531.06h2.60V532.85h-2.60zM236.56 536.29h2.60V537.47h-2.60zM238.48 537.63h2.60V539.42h-2.60zM240.41 540.89h2.60V542.07h-2.60zM242.33 536.97h2.60V538.76h-2.60zM244.26 519.90h2.60V530.88h-2.60zM248.10 525.15h2.60V531.53h-2.60zM250.03 519.24h2.60V523.65h-2.60zM251.95 534.35h2.60V536.13h-2.60zM253.87 538.26h2.60V539.45h-2.60zM255.80 535.66h2.60V538.10h-2.60zM257.72 532.38h2.60V534.82h-2.60zM259.65 521.21h2.60V534.82h-2.60zM261.57 529.09h2.60V532.85h-2.60zM263.49 527.12h2.60V532.19h-2.60zM265.42 531.03h2.60V531.56h-2.60zM267.34 538.95h2.60V540.07h-2.60zM269.26 538.92h2.60V539.45h-2.60zM271.19 538.29h2.60V539.42h-2.60zM273.11 531.72h2.60V534.82h-2.60zM275.04 531.72h2.60V532.85h-2.60zM276.96 534.35h2.60V537.45h-2.60zM278.88 537.60h2.60V538.79h-2.60zM280.81 538.92h2.60V540.76h-2.60zM282.73 540.23h2.60V542.07h-2.60zM284.65 536.29h2.60V536.82h-2.60zM286.58 533.69h2.60V536.13h-2.60zM288.50 536.29h2.60V538.13h-2.60zM290.42 529.72h2.60V530.25h-2.60zM292.35 536.97h2.60V538.76h-2.60zM294.27 540.26h2.60V541.39h-2.60zM296.20 540.92h2.60V542.04h-2.60zM298.12 540.23h2.60V540.76h-2.60zM300.04 540.89h2.60V542.73h-2.60zM305.81 538.26h2.60V539.45h-2.60zM309.66 540.89h2.60V542.73h-2.60zM311.59 540.23h2.60V541.42h-2.60zM313.51 532.35h2.60V534.19h-2.60zM315.43 539.60h2.60V542.04h-2.60zM317.36 540.89h2.60V542.07h-2.60zM319.28 542.20h2.60V543.39h-2.60zM321.20 539.57h2.60V541.42h-2.60zM323.13 540.23h2.60V542.07h-2.60zM325.05 536.29h2.60V538.13h-2.60zM326.97 540.23h2.60V542.07h-2.60zM328.90 540.89h2.60V542.07h-2.60zM334.67 541.54h2.60V543.39h-2.60zM336.59 540.89h2.60V542.73h-2.60zM340.44 540.89h2.60V542.73h-2.60zM342.36 539.57h2.60V541.42h-2.60zM344.29 540.23h2.60V542.07h-2.60zM348.14 541.54h2.60V542.73h-2.60zM351.98 542.20h2.60V544.04h-2.60zM353.91 539.57h2.60V541.42h-2.60zM359.68 540.89h2.60V542.73h-2.60zM363.53 542.20h2.60V544.04h-2.60zM365.45 541.54h2.60V543.39h-2.60zM369.30 542.20h2.60V544.04h-2.60zM371.22 538.92h2.60V540.76h-2.60zM382.76 540.89h2.60V542.73h-2.60zM384.69 540.89h2.60V541.42h-2.60zM392.38 540.23h2.60V542.07h-2.60zM394.30 538.26h2.60V540.10h-2.60zM396.23 538.92h2.60V540.76h-2.60zM400.08 538.92h2.60V540.76h-2.60zM402.00 538.92h2.60V540.76h-2.60zM403.92 526.44h2.60V528.28h-2.60zM405.85 540.89h2.60V542.73h-2.60zM407.77 537.60h2.60V538.79h-2.60zM409.69 531.06h2.60V532.85h-2.60zM411.62 532.38h2.60V533.50h-2.60zM413.54 531.69h2.60V532.88h-2.60zM415.47 538.26h2.60V539.45h-2.60zM417.39 537.60h2.60V539.45h-2.60zM419.31 532.35h2.60V534.19h-2.60zM421.24 528.41h2.60V530.25h-2.60zM423.16 529.06h2.60V529.59h-2.60zM425.08 527.12h2.60V530.22h-2.60zM427.01 530.41h2.60V531.53h-2.60zM428.93 536.29h2.60V537.47h-2.60zM430.85 530.38h2.60V531.56h-2.60zM432.78 523.84h2.60V526.28h-2.60zM434.70 520.55h2.60V523.65h-2.60zM436.63 524.49h2.60V526.28h-2.60zM438.55 516.61h2.60V519.71h-2.60zM440.47 530.38h2.60V530.91h-2.60zM442.40 536.95h2.60V538.79h-2.60zM444.32 527.12h2.60V528.25h-2.60zM446.24 514.64h2.60V519.05h-2.60zM448.17 516.61h2.60V517.74h-2.60zM450.09 528.44h2.60V530.22h-2.60zM452.02 532.35h2.60V532.88h-2.60zM453.94 525.15h2.60V526.94h-2.60zM455.86 534.97h2.60V535.50h-2.60zM457.79 527.12h2.60V528.25h-2.60zM459.71 510.70h2.60V511.83h-2.60zM461.63 501.51h2.60V504.60h-2.60zM463.56 517.93h2.60V519.71h-2.60zM465.48 515.27h2.60V515.80h-2.60zM467.41 507.42h2.60V515.11h-2.60zM469.33 516.61h2.60V521.02h-2.60zM471.25 498.88h2.60V503.95h-2.60zM473.18 506.76h2.60V510.51h-2.60zM475.10 482.46h2.60V491.47h-2.60zM477.02 497.56h2.60V503.29h-2.60zM478.95 476.55h2.60V486.21h-2.60zM480.87 509.39h2.60V512.49h-2.60zM482.79 527.12h2.60V529.56h-2.60zM484.72 529.72h2.60V530.91h-2.60zM486.64 512.01h2.60V515.11h-2.60zM488.57 484.43h2.60V489.50h-2.60zM490.49 487.71h2.60V496.06h-2.60zM492.41 482.46h2.60V492.12h-2.60zM494.34 499.53h2.60V503.29h-2.60zM496.26 516.61h2.60V520.37h-2.60zM498.18 509.39h2.60V518.40h-2.60zM500.11 499.53h2.60V507.89h-2.60zM502.03 491.00h2.60V496.72h-2.60zM503.96 510.04h2.60V515.77h-2.60zM505.88 494.28h2.60V502.63h-2.60zM507.80 518.58h2.60V522.34h-2.60zM509.73 527.12h2.60V528.25h-2.60zM511.65 516.61h2.60V521.68h-2.60zM513.57 506.10h2.60V513.14h-2.60zM515.50 515.96h2.60V519.05h-2.60zM517.42 508.73h2.60V515.77h-2.60zM519.34 492.31h2.60V498.03h-2.60zM521.27 513.33h2.60V521.68h-2.60zM523.19 517.27h2.60V519.71h-2.60zM525.12 517.93h2.60V522.34h-2.60zM527.04 511.36h2.60V513.14h-2.60zM528.96 504.79h2.60V510.51h-2.60zM530.89 494.28h2.60V501.32h-2.60zM532.81 519.24h2.60V524.31h-2.60zM534.73 504.13h2.60V514.46h-2.60zM536.66 529.09h2.60V531.53h-2.60zM538.58 515.96h2.60V519.71h-2.60zM540.51 499.53h2.60V511.83h-2.60zM542.43 491.00h2.60V501.98h-2.60zM544.35 506.76h2.60V513.14h-2.60zM546.28 513.99h2.60V519.05h-2.60zM548.20 515.96h2.60V519.71h-2.60zM550.12 536.32h2.60V538.10h-2.60zM552.05 518.58h2.60V524.97h-2.60zM553.97 503.48h2.60V508.54h-2.60zM555.90 511.36h2.60V513.14h-2.60zM557.82 508.07h2.60V513.14h-2.60zM559.74 507.42h2.60V515.77h-2.60zM561.67 515.96h2.60V523.65h-2.60zM563.59 533.00h2.60V534.19h-2.60zM565.51 525.81h2.60V528.25h-2.60zM567.44 535.63h2.60V537.47h-2.60zM569.36 518.58h2.60V522.34h-2.60zM571.28 510.04h2.60V515.77h-2.60zM573.21 503.48h2.60V511.83h-2.60zM575.13 515.96h2.60V521.68h-2.60zM577.06 538.26h2.60V538.79h-2.60zM578.98 519.24h2.60V522.99h-2.60zM580.90 505.45h2.60V512.49h-2.60zM582.83 504.79h2.60V510.51h-2.60zM584.75 515.96h2.60V520.37h-2.60zM586.67 519.24h2.60V521.68h-2.60zM588.60 524.49h2.60V525.62h-2.60zM590.52 537.60h2.60V539.45h-2.60zM592.45 517.24h2.60V517.77h-2.60zM594.37 515.30h2.60V519.71h-2.60zM596.29 514.64h2.60V520.37h-2.60zM598.22 509.39h2.60V515.11h-2.60zM600.14 515.96h2.60V528.25h-2.60zM602.06 531.03h2.60V532.22h-2.60zM603.99 530.41h2.60V533.50h-2.60zM605.91 519.90h2.60V524.97h-2.60zM607.84 506.10h2.60V511.17h-2.60zM609.76 512.67h2.60V520.37h-2.60zM611.68 511.36h2.60V516.43h-2.60zM613.61 525.12h2.60V525.65h-2.60zM615.53 523.18h2.60V527.59h-2.60zM617.45 533.69h2.60V535.47h-2.60zM619.38 521.87h2.60V523.65h-2.60zM621.30 512.01h2.60V514.46h-2.60zM623.22 522.49h2.60V523.02h-2.60zM625.15 502.16h2.60V511.83h-2.60zM627.07 517.93h2.60V519.05h-2.60zM629.00 515.96h2.60V522.99h-2.60zM630.92 535.00h2.60V536.79h-2.60zM632.84 517.93h2.60V521.68h-2.60zM634.77 523.18h2.60V526.94h-2.60zM636.69 513.99h2.60V521.02h-2.60zM638.61 522.52h2.60V528.25h-2.60zM640.54 515.30h2.60V522.34h-2.60zM642.46 515.96h2.60V521.02h-2.60zM646.31 521.21h2.60V526.94h-2.60zM648.23 527.12h2.60V529.56h-2.60zM650.16 496.25h2.60V500.66h-2.60zM652.08 496.91h2.60V503.95h-2.60zM654.00 494.94h2.60V504.60h-2.60zM655.93 512.01h2.60V521.02h-2.60zM657.85 531.06h2.60V533.50h-2.60zM659.77 502.82h2.60V515.11h-2.60zM661.70 489.68h2.60V509.20h-2.60zM663.62 493.62h2.60V499.35h-2.60zM665.55 481.14h2.60V492.78h-2.60zM667.47 486.40h2.60V492.78h-2.60zM669.39 500.19h2.60V511.17h-2.60zM671.32 516.61h2.60V522.99h-2.60zM673.24 492.31h2.60V510.51h-2.60zM675.16 454.21h2.60V466.51h-2.60zM677.09 470.63h2.60V486.87h-2.60zM679.01 458.81h2.60V480.96h-2.60zM680.94 469.32h2.60V487.53h-2.60zM682.86 477.86h2.60V496.72h-2.60zM684.78 519.90h2.60V522.99h-2.60zM686.71 516.61h2.60V523.65h-2.60zM688.63 483.11h2.60V503.95h-2.60zM690.55 435.16h2.60V466.51h-2.60zM692.48 457.50h2.60V478.33h-2.60zM694.40 458.81h2.60V482.27h-2.60zM696.33 489.03h2.60V503.29h-2.60zM698.25 515.96h2.60V521.02h-2.60zM700.17 484.43h2.60V502.63h-2.60zM702.10 468.01h2.60V486.21h-2.60zM704.02 469.98h2.60V482.27h-2.60zM705.94 465.38h2.60V488.84h-2.60zM707.87 475.23h2.60V492.12h-2.60zM709.79 491.65h2.60V504.60h-2.60zM711.71 513.99h2.60V518.40h-2.60zM713.64 475.23h2.60V494.75h-2.60zM715.56 440.42h2.60V467.16h-2.60zM717.49 452.90h2.60V462.57h-2.60zM719.41 424.00h2.60V450.09h-2.60zM721.33 450.27h2.60V469.13h-2.60zM723.26 446.99h2.60V468.48h-2.60zM725.18 488.37h2.60V499.35h-2.60zM727.10 450.27h2.60V466.51h-2.60zM729.03 428.60h2.60V454.68h-2.60zM730.95 387.87h2.60V438.26h-2.60zM732.88 433.85h2.60V448.77h-2.60zM734.80 415.46h2.60V445.49h-2.60zM736.72 438.45h2.60V452.06h-2.60zM738.65 462.75h2.60V481.61h-2.60zM740.57 389.84h2.60V424.47h-2.60zM742.49 398.38h2.60V429.07h-2.60zM744.42 333.35h2.60V373.23h-2.60zM746.34 332.04h2.60V378.49h-2.60zM748.27 343.21h2.60V390.31h-2.60zM750.19 379.99h2.60V407.39h-2.60zM752.11 394.44h2.60V429.72h-2.60zM754.04 374.73h2.60V414.62h-2.60zM755.96 362.91h2.60V404.11h-2.60zM757.88 290.00h2.60V350.25h-2.60zM759.81 341.24h2.60V383.09h-2.60zM761.73 378.68h2.60V415.93h-2.60z"/>
<path fill="#3CE8B0" d="M84.59 542.20h2.60V544.04h-2.60zM136.53 542.20h2.60V544.04h-2.60zM138.45 541.54h2.60V543.39h-2.60zM146.15 542.20h2.60V544.04h-2.60zM148.07 540.89h2.60V542.73h-2.60zM151.92 541.54h2.60V543.39h-2.60zM159.61 542.20h2.60V544.04h-2.60zM165.38 541.54h2.60V543.39h-2.60zM167.31 542.20h2.60V544.04h-2.60zM178.85 541.54h2.60V543.39h-2.60zM192.32 542.20h2.60V544.04h-2.60zM196.16 541.54h2.60V543.39h-2.60zM198.09 540.89h2.60V542.07h-2.60zM201.93 539.57h2.60V541.42h-2.60zM203.86 541.54h2.60V543.39h-2.60zM211.55 540.23h2.60V542.07h-2.60zM215.40 538.92h2.60V540.10h-2.60zM217.32 541.54h2.60V543.39h-2.60zM219.25 540.89h2.60V542.07h-2.60zM221.17 538.26h2.60V539.45h-2.60zM223.10 536.95h2.60V537.47h-2.60zM225.02 539.57h2.60V540.76h-2.60zM228.87 536.32h2.60V538.10h-2.60zM230.79 533.69h2.60V535.47h-2.60zM232.71 529.75h2.60V531.53h-2.60zM234.64 527.12h2.60V529.56h-2.60zM236.56 531.72h2.60V535.47h-2.60zM238.48 531.72h2.60V536.13h-2.60zM240.41 539.57h2.60V540.76h-2.60zM242.33 534.97h2.60V535.50h-2.60zM244.26 510.04h2.60V518.40h-2.60zM246.18 531.06h2.60V534.82h-2.60zM248.10 519.24h2.60V523.65h-2.60zM250.03 508.73h2.60V517.74h-2.60zM251.95 531.72h2.60V532.85h-2.60zM253.87 535.66h2.60V537.45h-2.60zM255.80 533.03h2.60V534.16h-2.60zM257.72 527.12h2.60V530.88h-2.60zM259.65 517.27h2.60V519.71h-2.60zM261.57 526.47h2.60V527.59h-2.60zM263.49 523.84h2.60V525.62h-2.60zM265.42 528.44h2.60V529.56h-2.60zM267.34 536.32h2.60V537.45h-2.60zM269.26 536.95h2.60V537.47h-2.60zM271.19 535.00h2.60V536.79h-2.60zM273.11 524.49h2.60V530.22h-2.60zM275.04 528.44h2.60V530.22h-2.60zM276.96 531.06h2.60V532.85h-2.60zM278.88 536.29h2.60V537.47h-2.60zM280.81 538.26h2.60V540.10h-2.60zM282.73 539.57h2.60V540.76h-2.60zM284.65 531.72h2.60V534.82h-2.60zM286.58 531.69h2.60V532.88h-2.60zM288.50 535.63h2.60V537.47h-2.60zM290.42 523.84h2.60V528.25h-2.60zM292.35 532.38h2.60V535.47h-2.60zM294.27 538.26h2.60V539.45h-2.60zM296.20 538.92h2.60V539.45h-2.60zM300.04 540.23h2.60V541.42h-2.60zM301.97 541.54h2.60V542.07h-2.60zM303.89 538.26h2.60V540.10h-2.60zM305.81 536.95h2.60V538.79h-2.60zM307.74 540.23h2.60V541.42h-2.60zM309.66 539.60h2.60V540.73h-2.60zM311.59 538.29h2.60V539.42h-2.60zM313.51 531.06h2.60V532.19h-2.60zM315.43 537.60h2.60V539.45h-2.60zM317.36 538.95h2.60V540.07h-2.60zM321.20 538.92h2.60V540.76h-2.60zM326.97 539.57h2.60V540.76h-2.60zM328.90 539.57h2.60V541.42h-2.60zM332.75 540.23h2.60V542.07h-2.60zM336.59 540.23h2.60V542.07h-2.60zM338.52 540.89h2.60V542.73h-2.60zM340.44 540.23h2.60V542.07h-2.60zM342.36 538.92h2.60V540.10h-2.60zM350.06 541.54h2.60V543.39h-2.60zM351.98 541.54h2.60V543.39h-2.60zM355.83 539.57h2.60V541.42h-2.60zM357.75 540.23h2.60V541.42h-2.60zM359.68 540.23h2.60V541.42h-2.60zM365.45 540.89h2.60V542.73h-2.60zM367.37 542.20h2.60V544.04h-2.60zM369.30 541.54h2.60V543.39h-2.60zM373.14 540.89h2.60V542.73h-2.60zM380.84 540.23h2.60V541.42h-2.60zM384.69 538.92h2.60V540.76h-2.60zM396.23 538.26h2.60V540.10h-2.60zM398.15 538.92h2.60V540.76h-2.60zM402.00 538.26h2.60V540.10h-2.60zM403.92 525.78h2.60V526.97h-2.60zM405.85 540.23h2.60V540.76h-2.60zM407.77 536.29h2.60V536.82h-2.60zM411.62 530.38h2.60V531.56h-2.60zM413.54 530.38h2.60V531.56h-2.60zM415.47 536.95h2.60V538.13h-2.60zM419.31 528.44h2.60V532.19h-2.60zM421.24 527.75h2.60V528.94h-2.60zM423.16 525.15h2.60V527.59h-2.60zM425.08 525.12h2.60V526.97h-2.60zM427.01 528.41h2.60V528.94h-2.60zM428.93 534.97h2.60V535.50h-2.60zM430.85 529.06h2.60V530.25h-2.60zM432.78 519.90h2.60V522.34h-2.60zM434.70 516.61h2.60V519.05h-2.60zM436.63 520.55h2.60V522.99h-2.60zM438.55 514.61h2.60V515.14h-2.60zM440.47 526.47h2.60V528.91h-2.60zM442.40 536.29h2.60V537.47h-2.60zM444.32 524.49h2.60V525.62h-2.60zM446.24 512.01h2.60V513.14h-2.60zM448.17 513.99h2.60V515.11h-2.60zM450.09 526.44h2.60V526.97h-2.60zM452.02 530.38h2.60V532.22h-2.60zM453.94 523.15h2.60V524.99h-2.60zM457.79 522.52h2.60V525.62h-2.60zM459.71 500.85h2.60V509.20h-2.60zM461.63 498.22h2.60V500.01h-2.60zM463.56 512.01h2.60V516.43h-2.60zM465.48 510.04h2.60V513.80h-2.60zM467.41 500.19h2.60V505.92h-2.60zM469.33 514.61h2.60V515.14h-2.60zM471.25 491.00h2.60V497.38h-2.60zM473.18 499.53h2.60V505.26h-2.60zM475.10 472.60h2.60V480.96h-2.60zM477.02 485.08h2.60V496.06h-2.60zM478.95 469.98h2.60V475.05h-2.60zM480.87 498.88h2.60V507.89h-2.60zM482.79 521.87h2.60V525.62h-2.60zM484.72 528.41h2.60V528.94h-2.60zM486.64 510.01h2.60V510.54h-2.60zM488.57 471.29h2.60V482.93h-2.60zM490.49 480.49h2.60V486.21h-2.60zM492.41 467.35h2.60V480.96h-2.60zM494.34 495.59h2.60V498.03h-2.60zM496.26 513.99h2.60V515.11h-2.60zM498.18 498.22h2.60V507.89h-2.60zM500.11 492.97h2.60V498.03h-2.60zM502.03 485.74h2.60V489.50h-2.60zM503.96 502.82h2.60V508.54h-2.60zM505.88 485.74h2.60V492.78h-2.60zM507.80 516.58h2.60V517.77h-2.60zM509.73 524.49h2.60V525.62h-2.60zM511.65 513.99h2.60V515.11h-2.60zM513.57 498.22h2.60V504.60h-2.60zM515.50 508.73h2.60V514.46h-2.60zM517.42 506.73h2.60V508.57h-2.60zM519.34 487.71h2.60V490.81h-2.60zM521.27 508.73h2.60V511.83h-2.60zM523.19 515.27h2.60V515.80h-2.60zM525.12 514.64h2.60V516.43h-2.60zM527.04 506.76h2.60V509.86h-2.60zM528.96 497.56h2.60V503.29h-2.60zM530.89 489.03h2.60V492.78h-2.60zM532.81 512.67h2.60V517.74h-2.60zM534.73 499.53h2.60V502.63h-2.60zM536.66 527.09h2.60V528.94h-2.60zM538.58 510.70h2.60V514.46h-2.60zM540.51 487.71h2.60V498.03h-2.60zM542.43 480.49h2.60V489.50h-2.60zM544.35 498.22h2.60V505.26h-2.60zM546.28 508.73h2.60V512.49h-2.60zM548.20 513.33h2.60V514.46h-2.60zM552.05 515.30h2.60V517.08h-2.60zM553.97 496.91h2.60V501.98h-2.60zM555.90 506.10h2.60V509.86h-2.60zM557.82 504.13h2.60V506.57h-2.60zM559.74 497.56h2.60V505.92h-2.60zM561.67 513.33h2.60V514.46h-2.60zM563.59 531.69h2.60V532.88h-2.60zM565.51 522.52h2.60V524.31h-2.60zM567.44 534.97h2.60V535.50h-2.60zM569.36 515.30h2.60V517.08h-2.60zM571.28 502.82h2.60V508.54h-2.60zM573.21 492.97h2.60V501.98h-2.60zM575.13 511.36h2.60V514.46h-2.60zM577.06 536.29h2.60V536.82h-2.60zM578.98 513.99h2.60V517.74h-2.60zM580.90 500.85h2.60V503.95h-2.60zM582.83 500.85h2.60V503.29h-2.60zM584.75 508.07h2.60V514.46h-2.60zM586.67 511.36h2.60V517.74h-2.60zM588.60 522.49h2.60V523.68h-2.60zM590.52 536.95h2.60V538.79h-2.60zM592.45 513.33h2.60V515.77h-2.60zM594.37 510.70h2.60V513.80h-2.60zM596.29 510.70h2.60V513.14h-2.60zM598.22 506.10h2.60V507.89h-2.60zM600.14 512.01h2.60V514.46h-2.60zM602.06 529.72h2.60V531.56h-2.60zM603.99 528.41h2.60V529.59h-2.60zM605.91 515.30h2.60V518.40h-2.60zM607.84 494.28h2.60V504.60h-2.60zM609.76 506.10h2.60V511.17h-2.60zM611.68 500.19h2.60V509.86h-2.60zM613.61 520.55h2.60V523.65h-2.60zM615.53 519.90h2.60V521.68h-2.60zM617.45 531.69h2.60V532.88h-2.60zM619.38 519.24h2.60V520.37h-2.60zM621.30 505.45h2.60V510.51h-2.60zM623.22 519.90h2.60V521.02h-2.60zM625.15 496.25h2.60V500.66h-2.60zM627.07 511.36h2.60V516.43h-2.60zM629.00 509.39h2.60V514.46h-2.60zM630.92 532.38h2.60V533.50h-2.60zM632.84 510.04h2.60V516.43h-2.60zM634.77 511.36h2.60V521.68h-2.60zM636.69 507.42h2.60V512.49h-2.60zM638.61 515.30h2.60V521.02h-2.60zM640.54 512.01h2.60V513.80h-2.60zM642.46 509.39h2.60V514.46h-2.60zM644.39 531.03h2.60V532.22h-2.60zM646.31 512.67h2.60V519.71h-2.60zM648.23 520.55h2.60V525.62h-2.60zM650.16 487.71h2.60V494.75h-2.60zM652.08 491.00h2.60V495.41h-2.60zM654.00 479.83h2.60V493.44h-2.60zM655.93 506.10h2.60V510.51h-2.60zM657.85 528.44h2.60V529.56h-2.60zM659.77 497.56h2.60V501.32h-2.60zM661.70 481.80h2.60V488.18h-2.60zM663.62 476.55h2.60V492.12h-2.60zM665.55 467.35h2.60V479.64h-2.60zM667.47 471.29h2.60V484.90h-2.60zM669.39 491.00h2.60V498.69h-2.60zM671.32 513.99h2.60V515.11h-2.60zM673.24 485.08h2.60V490.81h-2.60zM675.16 439.76h2.60V452.71h-2.60zM677.09 445.67h2.60V469.13h-2.60zM679.01 434.51h2.60V457.31h-2.60zM680.94 445.67h2.60V467.82h-2.60zM682.86 463.41h2.60V476.36h-2.60zM684.78 515.30h2.60V518.40h-2.60zM686.71 506.76h2.60V515.11h-2.60zM688.63 467.35h2.60V481.61h-2.60zM690.55 416.77h2.60V433.66h-2.60zM692.48 435.82h2.60V456.00h-2.60zM694.40 435.82h2.60V457.31h-2.60zM696.33 477.86h2.60V487.53h-2.60zM698.25 504.13h2.60V514.46h-2.60zM700.17 470.63h2.60V482.93h-2.60zM702.10 447.64h2.60V466.51h-2.60zM704.02 441.08h2.60V468.48h-2.60zM705.94 448.30h2.60V463.88h-2.60zM707.87 459.47h2.60V473.73h-2.60zM709.79 478.52h2.60V490.15h-2.60zM711.71 508.07h2.60V512.49h-2.60zM713.64 460.78h2.60V473.73h-2.60zM715.56 411.52h2.60V438.92h-2.60zM717.49 434.51h2.60V451.40h-2.60zM719.41 389.19h2.60V422.50h-2.60zM721.33 431.88h2.60V448.77h-2.60zM723.26 426.63h2.60V445.49h-2.60zM725.18 477.86h2.60V486.87h-2.60zM727.10 427.94h2.60V448.77h-2.60zM729.03 395.10h2.60V427.10h-2.60zM730.95 366.85h2.60V386.37h-2.60zM732.88 406.92h2.60V432.35h-2.60zM734.80 380.65h2.60V413.96h-2.60zM736.72 417.43h2.60V436.95h-2.60zM738.65 450.27h2.60V461.25h-2.60zM740.57 358.97h2.60V388.34h-2.60zM742.49 355.03h2.60V396.88h-2.60zM744.42 289.35h2.60V331.85h-2.60zM746.34 284.09h2.60V330.54h-2.60zM748.27 301.17h2.60V341.71h-2.60zM750.19 359.63h2.60V378.49h-2.60zM752.11 366.85h2.60V392.94h-2.60zM754.04 335.32h2.60V373.23h-2.60zM755.96 324.81h2.60V361.41h-2.60zM757.88 232.20h2.60V288.50h-2.60zM759.81 300.51h2.60V339.74h-2.60zM761.73 341.89h2.60V377.18h-2.60z"/>
<path fill="#3AC8DC" d="M146.15 541.54h2.60V543.39h-2.60zM157.69 542.20h2.60V544.04h-2.60zM161.54 541.54h2.60V543.39h-2.60zM167.31 541.54h2.60V543.39h-2.60zM175.00 542.20h2.60V544.04h-2.60zM176.93 541.54h2.60V543.39h-2.60zM178.85 540.89h2.60V541.42h-2.60zM180.77 540.89h2.60V542.73h-2.60zM182.70 542.20h2.60V544.04h-2.60zM205.78 539.57h2.60V541.42h-2.60zM211.55 539.57h2.60V540.76h-2.60zM213.48 541.54h2.60V542.73h-2.60zM217.32 540.89h2.60V542.07h-2.60zM219.25 539.57h2.60V540.76h-2.60zM225.02 538.26h2.60V540.10h-2.60zM228.87 534.32h2.60V535.50h-2.60zM232.71 527.75h2.60V528.94h-2.60zM234.64 525.12h2.60V525.65h-2.60zM236.56 529.72h2.60V530.91h-2.60zM240.41 538.26h2.60V540.10h-2.60zM244.26 507.42h2.60V508.54h-2.60zM246.18 527.12h2.60V529.56h-2.60zM248.10 517.24h2.60V517.77h-2.60zM250.03 503.48h2.60V507.23h-2.60zM251.95 527.78h2.60V530.22h-2.60zM253.87 533.66h2.60V535.50h-2.60zM255.80 530.41h2.60V531.53h-2.60zM257.72 525.12h2.60V525.65h-2.60zM259.65 514.64h2.60V515.77h-2.60zM261.57 523.84h2.60V524.97h-2.60zM263.49 519.90h2.60V522.34h-2.60zM265.42 526.44h2.60V527.62h-2.60zM267.34 534.32h2.60V536.16h-2.60zM269.26 534.97h2.60V536.16h-2.60zM271.19 533.00h2.60V534.19h-2.60zM273.11 522.49h2.60V523.02h-2.60zM275.04 526.44h2.60V528.28h-2.60zM278.88 534.97h2.60V536.16h-2.60zM282.73 538.26h2.60V540.10h-2.60zM284.65 529.72h2.60V531.56h-2.60zM286.58 530.38h2.60V532.22h-2.60zM288.50 534.97h2.60V536.16h-2.60zM292.35 530.38h2.60V532.22h-2.60zM294.27 536.95h2.60V538.13h-2.60zM296.20 536.95h2.60V537.47h-2.60zM300.04 538.92h2.60V539.45h-2.60zM305.81 536.29h2.60V537.47h-2.60zM307.74 538.92h2.60V540.76h-2.60zM309.66 537.60h2.60V538.79h-2.60zM311.59 536.29h2.60V538.13h-2.60zM313.51 527.12h2.60V529.56h-2.60zM315.43 536.95h2.60V538.13h-2.60zM317.36 536.95h2.60V538.79h-2.60zM321.20 538.26h2.60V540.10h-2.60zM323.13 539.57h2.60V541.42h-2.60zM325.05 535.63h2.60V536.16h-2.60zM326.97 538.26h2.60V540.10h-2.60zM328.90 538.92h2.60V540.76h-2.60zM330.82 541.54h2.60V543.39h-2.60zM338.52 540.23h2.60V542.07h-2.60zM340.44 539.57h2.60V541.42h-2.60zM342.36 537.60h2.60V539.45h-2.60zM351.98 540.89h2.60V542.73h-2.60zM353.91 538.92h2.60V540.76h-2.60zM355.83 538.92h2.60V540.76h-2.60zM357.75 538.92h2.60V540.76h-2.60zM369.30 540.89h2.60V542.73h-2.60zM376.99 540.23h2.60V542.07h-2.60zM378.91 538.92h2.60V540.76h-2.60zM380.84 538.92h2.60V540.76h-2.60zM382.76 540.23h2.60V542.07h-2.60zM392.38 539.57h2.60V541.42h-2.60zM400.08 538.26h2.60V539.45h-2.60zM403.92 524.47h2.60V525.65h-2.60zM405.85 538.26h2.60V540.10h-2.60zM409.69 529.06h2.60V530.91h-2.60zM411.62 529.06h2.60V530.91h-2.60zM417.39 536.95h2.60V538.79h-2.60zM421.24 526.44h2.60V528.28h-2.60zM423.16 523.15h2.60V524.99h-2.60zM425.08 524.47h2.60V524.99h-2.60zM427.01 526.44h2.60V528.28h-2.60zM428.93 533.00h2.60V533.53h-2.60zM430.85 527.75h2.60V528.94h-2.60zM432.78 516.61h2.60V518.40h-2.60zM434.70 514.61h2.60V515.14h-2.60zM436.63 518.55h2.60V519.74h-2.60zM438.55 512.64h2.60V514.49h-2.60zM440.47 524.47h2.60V526.31h-2.60zM442.40 534.97h2.60V536.16h-2.60zM446.24 508.07h2.60V510.51h-2.60zM448.17 511.99h2.60V513.17h-2.60zM450.09 524.47h2.60V526.31h-2.60zM453.94 522.49h2.60V524.34h-2.60zM459.71 498.22h2.60V499.35h-2.60zM461.63 495.59h2.60V496.72h-2.60zM465.48 506.76h2.60V508.54h-2.60zM467.41 498.19h2.60V498.72h-2.60zM469.33 512.64h2.60V513.83h-2.60zM473.18 496.91h2.60V498.03h-2.60zM475.10 468.01h2.60V471.10h-2.60zM477.02 477.86h2.60V483.58h-2.60zM478.95 466.04h2.60V468.48h-2.60zM480.87 494.94h2.60V497.38h-2.60zM482.79 519.87h2.60V521.71h-2.60zM486.64 505.45h2.60V508.54h-2.60zM488.57 468.01h2.60V469.79h-2.60zM490.49 477.86h2.60V478.99h-2.60zM492.41 464.72h2.60V465.85h-2.60zM494.34 492.97h2.60V494.09h-2.60zM496.26 511.99h2.60V513.17h-2.60zM498.18 494.94h2.60V496.72h-2.60zM500.11 484.43h2.60V491.47h-2.60zM502.03 481.14h2.60V484.24h-2.60zM503.96 495.59h2.60V501.32h-2.60zM505.88 483.74h2.60V484.27h-2.60zM507.80 515.27h2.60V516.46h-2.60zM509.73 522.49h2.60V523.02h-2.60zM511.65 511.99h2.60V513.17h-2.60zM513.57 492.31h2.60V496.72h-2.60zM515.50 505.45h2.60V507.23h-2.60zM517.42 501.51h2.60V506.57h-2.60zM519.34 483.11h2.60V486.21h-2.60zM521.27 506.73h2.60V507.26h-2.60zM523.19 513.30h2.60V513.83h-2.60zM525.12 509.39h2.60V513.14h-2.60zM527.04 500.85h2.60V505.26h-2.60zM528.96 495.56h2.60V496.75h-2.60zM530.89 482.46h2.60V487.53h-2.60zM532.81 510.67h2.60V511.20h-2.60zM534.73 494.94h2.60V498.03h-2.60zM536.66 526.44h2.60V526.97h-2.60zM538.58 508.70h2.60V509.89h-2.60zM540.51 481.80h2.60V486.21h-2.60zM542.43 475.23h2.60V478.99h-2.60zM544.35 496.22h2.60V497.41h-2.60zM546.28 504.13h2.60V507.23h-2.60zM548.20 511.33h2.60V512.51h-2.60zM552.05 513.30h2.60V514.49h-2.60zM553.97 490.34h2.60V495.41h-2.60zM555.90 504.10h2.60V504.63h-2.60zM557.82 498.88h2.60V502.63h-2.60zM559.74 495.56h2.60V497.41h-2.60zM561.67 511.33h2.60V512.51h-2.60zM563.59 530.38h2.60V532.22h-2.60zM565.51 520.52h2.60V521.71h-2.60zM569.36 512.67h2.60V513.80h-2.60zM571.28 499.53h2.60V501.32h-2.60zM573.21 490.97h2.60V491.50h-2.60zM575.13 506.76h2.60V509.86h-2.60zM577.06 534.32h2.60V534.85h-2.60zM578.98 510.70h2.60V512.49h-2.60zM580.90 498.22h2.60V499.35h-2.60zM582.83 496.91h2.60V499.35h-2.60zM584.75 503.48h2.60V506.57h-2.60zM586.67 509.36h2.60V509.89h-2.60zM588.60 521.18h2.60V521.71h-2.60zM590.52 536.29h2.60V538.13h-2.60zM592.45 507.42h2.60V511.83h-2.60zM594.37 506.76h2.60V509.20h-2.60zM596.29 507.42h2.60V509.20h-2.60zM598.22 503.48h2.60V504.60h-2.60zM600.14 509.39h2.60V510.51h-2.60zM602.06 523.84h2.60V529.56h-2.60zM603.99 527.09h2.60V528.28h-2.60zM605.91 512.01h2.60V513.80h-2.60zM607.84 491.00h2.60V492.78h-2.60zM609.76 499.53h2.60V504.60h-2.60zM611.68 494.94h2.60V498.69h-2.60zM613.61 517.93h2.60V519.05h-2.60zM615.53 517.27h2.60V518.40h-2.60zM617.45 530.38h2.60V531.56h-2.60zM619.38 517.24h2.60V517.77h-2.60zM621.30 498.88h2.60V503.95h-2.60zM623.22 514.64h2.60V518.40h-2.60zM625.15 492.31h2.60V494.75h-2.60zM627.07 508.73h2.60V509.86h-2.60zM629.00 506.76h2.60V507.89h-2.60zM632.84 507.42h2.60V508.54h-2.60zM634.77 506.76h2.60V509.86h-2.60zM636.69 503.48h2.60V505.92h-2.60zM638.61 508.73h2.60V513.80h-2.60zM640.54 508.07h2.60V510.51h-2.60zM642.46 506.76h2.60V507.89h-2.60zM644.39 529.72h2.60V531.56h-2.60zM646.31 506.10h2.60V511.17h-2.60zM648.23 515.96h2.60V519.05h-2.60zM650.16 479.17h2.60V486.21h-2.60zM652.08 487.05h2.60V489.50h-2.60zM654.00 463.41h2.60V478.33h-2.60zM655.93 501.51h2.60V504.60h-2.60zM657.85 525.81h2.60V526.94h-2.60zM659.77 489.68h2.60V496.06h-2.60zM661.70 472.60h2.60V480.30h-2.60zM663.62 468.66h2.60V475.05h-2.60zM665.55 456.84h2.60V465.85h-2.60zM667.47 466.04h2.60V469.79h-2.60zM669.39 481.80h2.60V489.50h-2.60zM671.32 509.39h2.60V512.49h-2.60zM673.24 475.23h2.60V483.58h-2.60zM675.16 425.97h2.60V438.26h-2.60zM677.09 437.79h2.60V444.17h-2.60zM679.01 430.57h2.60V433.01h-2.60zM680.94 436.48h2.60V444.17h-2.60zM682.86 458.81h2.60V461.91h-2.60zM684.78 510.04h2.60V513.80h-2.60zM686.71 504.76h2.60V505.95h-2.60zM688.63 456.18h2.60V465.85h-2.60zM690.55 401.01h2.60V415.27h-2.60zM692.48 420.71h2.60V434.32h-2.60zM694.40 431.88h2.60V434.32h-2.60zM696.33 460.78h2.60V476.36h-2.60zM698.25 499.53h2.60V502.63h-2.60zM700.17 453.56h2.60V469.13h-2.60zM702.10 431.22h2.60V446.14h-2.60zM704.02 435.16h2.60V439.58h-2.60zM705.94 437.13h2.60V446.80h-2.60zM707.87 445.02h2.60V457.97h-2.60zM709.79 468.01h2.60V477.02h-2.60zM711.71 506.07h2.60V506.60h-2.60zM713.64 455.53h2.60V459.28h-2.60zM715.56 401.67h2.60V410.02h-2.60zM717.49 414.80h2.60V433.01h-2.60zM719.41 378.02h2.60V387.69h-2.60zM721.33 416.77h2.60V430.38h-2.60zM723.26 411.52h2.60V425.13h-2.60zM725.18 471.95h2.60V476.36h-2.60zM727.10 414.80h2.60V426.44h-2.60zM729.03 379.99h2.60V393.60h-2.60zM730.95 356.34h2.60V365.35h-2.60zM732.88 384.59h2.60V405.42h-2.60zM734.80 366.85h2.60V379.15h-2.60zM736.72 403.64h2.60V415.93h-2.60zM738.65 436.48h2.60V448.77h-2.60zM740.57 343.86h2.60V357.47h-2.60zM742.49 344.52h2.60V353.53h-2.60zM744.42 255.19h2.60V287.85h-2.60zM746.34 256.50h2.60V282.59h-2.60zM748.27 267.01h2.60V299.67h-2.60zM750.19 340.58h2.60V358.13h-2.60zM752.11 350.43h2.60V365.35h-2.60zM754.04 318.90h2.60V333.82h-2.60zM755.96 299.85h2.60V323.31h-2.60zM757.88 199.36h2.60V230.70h-2.60zM759.81 274.24h2.60V299.01h-2.60zM761.73 322.84h2.60V340.39h-2.60z"/>
<path fill="#3070D0" d="M134.60 542.20h2.60V544.04h-2.60zM149.99 541.54h2.60V543.39h-2.60zM155.77 542.20h2.60V544.04h-2.60zM171.16 542.20h2.60V544.04h-2.60zM198.09 539.57h2.60V540.76h-2.60zM205.78 538.92h2.60V540.76h-2.60zM209.63 540.89h2.60V542.73h-2.60zM219.25 538.26h2.60V540.10h-2.60zM221.17 536.95h2.60V538.13h-2.60zM223.10 534.97h2.60V536.82h-2.60zM225.02 537.60h2.60V539.45h-2.60zM226.94 538.92h2.60V540.76h-2.60zM228.87 533.00h2.60V534.85h-2.60zM230.79 531.06h2.60V532.19h-2.60zM234.64 523.15h2.60V524.34h-2.60zM238.48 529.09h2.60V530.22h-2.60zM240.41 537.60h2.60V539.45h-2.60zM242.33 533.00h2.60V533.53h-2.60zM244.26 502.16h2.60V505.92h-2.60zM246.18 524.49h2.60V525.62h-2.60zM248.10 513.33h2.60V515.77h-2.60zM250.03 498.88h2.60V501.98h-2.60zM251.95 525.78h2.60V526.31h-2.60zM253.87 533.00h2.60V534.19h-2.60zM257.72 521.21h2.60V523.65h-2.60zM259.65 512.01h2.60V513.14h-2.60zM261.57 521.84h2.60V523.68h-2.60zM263.49 517.27h2.60V518.40h-2.60zM271.19 530.41h2.60V532.19h-2.60zM273.11 520.52h2.60V521.05h-2.60zM275.04 525.78h2.60V526.97h-2.60zM276.96 529.06h2.60V530.25h-2.60zM278.88 533.66h2.60V534.85h-2.60zM282.73 537.60h2.60V538.79h-2.60zM284.65 527.78h2.60V529.56h-2.60zM286.58 528.44h2.60V530.22h-2.60zM288.50 533.66h2.60V535.50h-2.60zM290.42 521.84h2.60V523.02h-2.60zM292.35 529.72h2.60V530.25h-2.60zM294.27 535.63h2.60V537.47h-2.60zM296.20 534.97h2.60V536.82h-2.60zM298.12 537.63h2.60V538.76h-2.60zM300.04 536.95h2.60V538.79h-2.60zM301.97 539.57h2.60V541.42h-2.60zM303.89 537.60h2.60V538.79h-2.60zM307.74 538.26h2.60V540.10h-2.60zM309.66 536.29h2.60V536.82h-2.60zM313.51 525.12h2.60V526.31h-2.60zM317.36 536.29h2.60V538.13h-2.60zM319.28 540.89h2.60V542.07h-2.60zM323.13 538.92h2.60V540.10h-2.60zM325.05 533.66h2.60V534.19h-2.60zM326.97 536.32h2.60V538.10h-2.60zM328.90 538.26h2.60V540.10h-2.60zM330.82 540.89h2.60V542.07h-2.60zM332.75 539.57h2.60V540.76h-2.60zM338.52 539.57h2.60V541.42h-2.60zM340.44 538.92h2.60V539.45h-2.60zM346.21 539.57h2.60V541.42h-2.60zM378.91 538.26h2.60V540.10h-2.60zM396.23 537.60h2.60V539.45h-2.60zM402.00 537.60h2.60V539.45h-2.60zM403.92 523.15h2.60V524.99h-2.60zM405.85 537.60h2.60V539.45h-2.60zM407.77 534.32h2.60V535.50h-2.60zM409.69 528.41h2.60V529.59h-2.60zM413.54 529.06h2.60V530.91h-2.60zM415.47 535.63h2.60V537.47h-2.60zM417.39 536.29h2.60V538.13h-2.60zM423.16 522.49h2.60V524.34h-2.60zM432.78 514.61h2.60V516.46h-2.60zM436.63 516.61h2.60V517.74h-2.60zM446.24 504.79h2.60V506.57h-2.60zM448.17 510.67h2.60V512.51h-2.60zM463.56 510.01h2.60V511.20h-2.60zM465.48 504.76h2.60V506.60h-2.60zM469.33 511.33h2.60V513.17h-2.60zM471.25 489.00h2.60V489.53h-2.60zM473.18 492.97h2.60V495.41h-2.60zM475.10 466.01h2.60V466.54h-2.60zM477.02 473.92h2.60V476.36h-2.60zM478.95 463.41h2.60V464.54h-2.60zM480.87 492.31h2.60V493.44h-2.60zM486.64 501.51h2.60V503.95h-2.60zM488.57 464.72h2.60V466.51h-2.60zM490.49 468.66h2.60V476.36h-2.60zM492.41 460.12h2.60V463.22h-2.60zM494.34 490.97h2.60V492.81h-2.60zM496.26 510.67h2.60V511.86h-2.60zM498.18 492.31h2.60V493.44h-2.60zM500.11 482.43h2.60V482.96h-2.60zM502.03 476.55h2.60V479.64h-2.60zM503.96 493.59h2.60V494.12h-2.60zM505.88 479.83h2.60V482.27h-2.60zM509.73 519.90h2.60V521.02h-2.60zM511.65 508.07h2.60V511.17h-2.60zM513.57 490.31h2.60V491.50h-2.60zM515.50 503.45h2.60V504.63h-2.60zM517.42 495.59h2.60V500.01h-2.60zM519.34 475.89h2.60V481.61h-2.60zM523.19 511.33h2.60V512.51h-2.60zM525.12 507.39h2.60V507.92h-2.60zM527.04 496.25h2.60V499.35h-2.60zM528.96 494.25h2.60V496.09h-2.60zM530.89 477.20h2.60V480.96h-2.60zM532.81 501.51h2.60V509.20h-2.60zM534.73 492.31h2.60V493.44h-2.60zM536.66 524.47h2.60V524.99h-2.60zM538.58 506.10h2.60V507.89h-2.60zM540.51 477.86h2.60V480.30h-2.60zM542.43 470.63h2.60V473.73h-2.60zM544.35 492.31h2.60V495.41h-2.60zM546.28 500.85h2.60V502.63h-2.60zM548.20 510.01h2.60V510.54h-2.60zM550.12 534.32h2.60V536.16h-2.60zM552.05 510.04h2.60V512.49h-2.60zM553.97 487.05h2.60V488.84h-2.60zM555.90 502.13h2.60V503.32h-2.60zM557.82 496.88h2.60V498.72h-2.60zM559.74 494.91h2.60V496.75h-2.60zM561.67 507.42h2.60V510.51h-2.60zM563.59 529.72h2.60V531.56h-2.60zM565.51 519.21h2.60V520.40h-2.60zM569.36 506.10h2.60V511.17h-2.60zM571.28 496.91h2.60V498.03h-2.60zM573.21 489.00h2.60V489.53h-2.60zM575.13 503.48h2.60V505.26h-2.60zM577.06 532.35h2.60V534.19h-2.60zM578.98 508.07h2.60V509.20h-2.60zM580.90 494.94h2.60V496.72h-2.60zM582.83 492.97h2.60V495.41h-2.60zM584.75 501.48h2.60V502.66h-2.60zM586.67 505.45h2.60V507.89h-2.60zM590.52 535.63h2.60V537.47h-2.60zM592.45 503.48h2.60V505.92h-2.60zM594.37 504.13h2.60V505.26h-2.60zM596.29 505.42h2.60V505.95h-2.60zM598.22 497.56h2.60V501.98h-2.60zM600.14 505.45h2.60V507.89h-2.60zM602.06 521.21h2.60V522.34h-2.60zM603.99 525.15h2.60V526.28h-2.60zM605.91 510.01h2.60V510.54h-2.60zM607.84 486.40h2.60V489.50h-2.60zM609.76 494.94h2.60V498.03h-2.60zM611.68 491.00h2.60V493.44h-2.60zM613.61 514.64h2.60V516.43h-2.60zM615.53 513.33h2.60V515.77h-2.60zM617.45 529.06h2.60V530.25h-2.60zM619.38 514.64h2.60V515.77h-2.60zM621.30 492.31h2.60V497.38h-2.60zM623.22 508.73h2.60V513.14h-2.60zM625.15 485.74h2.60V490.81h-2.60zM627.07 506.10h2.60V507.23h-2.60zM629.00 504.76h2.60V505.95h-2.60zM630.92 529.75h2.60V530.88h-2.60zM632.84 504.13h2.60V505.92h-2.60zM634.77 504.76h2.60V505.95h-2.60zM636.69 498.88h2.60V501.98h-2.60zM638.61 506.10h2.60V507.23h-2.60zM640.54 505.45h2.60V506.57h-2.60zM642.46 504.13h2.60V505.26h-2.60zM644.39 529.06h2.60V529.59h-2.60zM646.31 503.48h2.60V504.60h-2.60zM648.23 513.96h2.60V514.49h-2.60zM650.16 473.26h2.60V477.67h-2.60zM652.08 479.83h2.60V485.55h-2.60zM654.00 460.78h2.60V461.91h-2.60zM655.93 494.28h2.60V500.01h-2.60zM657.85 521.87h2.60V524.31h-2.60zM659.77 481.80h2.60V488.18h-2.60zM661.70 466.04h2.60V471.10h-2.60zM663.62 462.75h2.60V467.16h-2.60zM665.55 452.90h2.60V455.34h-2.60zM667.47 456.84h2.60V464.54h-2.60zM669.39 475.89h2.60V480.30h-2.60zM671.32 506.76h2.60V507.89h-2.60zM673.24 463.41h2.60V473.73h-2.60zM675.16 404.95h2.60V424.47h-2.60zM677.09 420.71h2.60V436.29h-2.60zM679.01 420.06h2.60V429.07h-2.60zM680.94 425.97h2.60V434.98h-2.60zM682.86 451.59h2.60V457.31h-2.60zM684.78 501.51h2.60V508.54h-2.60zM686.71 502.16h2.60V503.95h-2.60zM688.63 446.99h2.60V454.68h-2.60zM690.55 389.19h2.60V399.51h-2.60zM692.48 412.83h2.60V419.21h-2.60zM694.40 412.17h2.60V430.38h-2.60zM696.33 452.24h2.60V459.28h-2.60zM698.25 496.25h2.60V498.03h-2.60zM700.17 447.64h2.60V452.06h-2.60zM702.10 421.37h2.60V429.72h-2.60zM704.02 420.71h2.60V433.66h-2.60zM705.94 426.63h2.60V435.63h-2.60zM707.87 436.48h2.60V443.52h-2.60zM709.79 458.81h2.60V466.51h-2.60zM711.71 504.10h2.60V504.63h-2.60zM713.64 451.59h2.60V454.03h-2.60zM715.56 393.13h2.60V400.17h-2.60zM717.49 406.92h2.60V413.30h-2.60zM719.41 371.45h2.60V376.52h-2.60zM721.33 407.58h2.60V415.27h-2.60zM723.26 403.64h2.60V410.02h-2.60zM725.18 468.66h2.60V470.45h-2.60zM727.10 404.95h2.60V413.30h-2.60zM729.03 367.51h2.60V378.49h-2.60zM730.95 347.15h2.60V354.84h-2.60zM732.88 360.94h2.60V383.09h-2.60zM734.80 347.15h2.60V365.35h-2.60zM736.72 397.72h2.60V402.14h-2.60zM738.65 427.94h2.60V434.98h-2.60zM740.57 328.76h2.60V342.36h-2.60zM742.49 334.01h2.60V343.02h-2.60zM744.42 235.48h2.60V253.69h-2.60zM746.34 245.34h2.60V255.00h-2.60zM748.27 249.28h2.60V265.51h-2.60zM750.19 325.47h2.60V339.08h-2.60zM752.11 335.98h2.60V348.93h-2.60zM754.04 295.26h2.60V317.40h-2.60zM755.96 281.46h2.60V298.35h-2.60zM757.88 175.05h2.60V197.86h-2.60zM759.81 253.22h2.60V272.74h-2.60zM761.73 300.51h2.60V321.34h-2.60z"/>
<path fill="#3830B8" d="M149.99 540.89h2.60V542.73h-2.60zM155.77 541.54h2.60V543.39h-2.60zM176.93 540.89h2.60V542.73h-2.60zM180.77 540.23h2.60V542.07h-2.60zM207.71 540.23h2.60V542.07h-2.60zM209.63 540.23h2.60V542.07h-2.60zM221.17 535.63h2.60V536.82h-2.60zM230.79 529.06h2.60V530.91h-2.60zM232.71 526.44h2.60V527.62h-2.60zM234.64 521.84h2.60V523.68h-2.60zM236.56 528.41h2.60V528.94h-2.60zM238.48 527.09h2.60V527.62h-2.60zM242.33 531.03h2.60V532.22h-2.60zM248.10 508.73h2.60V511.83h-2.60zM250.03 496.25h2.60V497.38h-2.60zM251.95 523.18h2.60V524.31h-2.60zM253.87 531.69h2.60V533.53h-2.60zM255.80 528.41h2.60V530.25h-2.60zM257.72 517.93h2.60V519.71h-2.60zM261.57 521.18h2.60V521.71h-2.60zM263.49 515.27h2.60V517.11h-2.60zM265.42 525.12h2.60V525.65h-2.60zM271.19 528.41h2.60V528.94h-2.60zM273.11 518.55h2.60V519.74h-2.60zM275.04 524.47h2.60V524.99h-2.60zM276.96 526.47h2.60V528.25h-2.60zM280.81 537.60h2.60V539.45h-2.60zM282.73 536.29h2.60V537.47h-2.60zM286.58 526.44h2.60V528.28h-2.60zM288.50 533.00h2.60V534.85h-2.60zM290.42 519.90h2.60V521.02h-2.60zM292.35 527.75h2.60V528.94h-2.60zM296.20 534.32h2.60V536.16h-2.60zM301.97 538.92h2.60V540.76h-2.60zM305.81 534.97h2.60V536.16h-2.60zM307.74 537.60h2.60V539.45h-2.60zM309.66 534.32h2.60V536.16h-2.60zM313.51 523.81h2.60V525.65h-2.60zM315.43 535.63h2.60V537.47h-2.60zM317.36 535.63h2.60V536.82h-2.60zM319.28 539.57h2.60V541.42h-2.60zM321.20 537.60h2.60V539.45h-2.60zM323.13 537.60h2.60V539.45h-2.60zM325.05 531.69h2.60V532.88h-2.60zM326.97 534.32h2.60V535.50h-2.60zM328.90 537.60h2.60V539.45h-2.60zM330.82 539.57h2.60V540.76h-2.60zM334.67 540.89h2.60V542.73h-2.60zM338.52 538.92h2.60V540.76h-2.60zM342.36 536.95h2.60V538.79h-2.60zM346.21 538.92h2.60V540.76h-2.60zM351.98 540.23h2.60V542.07h-2.60zM359.68 538.92h2.60V540.76h-2.60zM378.91 537.60h2.60V539.45h-2.60zM380.84 538.26h2.60V540.10h-2.60zM390.46 540.89h2.60V542.73h-2.60zM392.38 538.92h2.60V540.76h-2.60zM403.92 522.49h2.60V523.68h-2.60zM415.47 534.97h2.60V536.82h-2.60zM423.16 521.84h2.60V523.02h-2.60zM425.08 522.49h2.60V523.68h-2.60zM430.85 526.44h2.60V528.28h-2.60zM432.78 513.96h2.60V515.80h-2.60zM434.70 512.64h2.60V514.49h-2.60zM436.63 514.61h2.60V515.80h-2.60zM440.47 523.81h2.60V525.65h-2.60zM446.24 501.51h2.60V503.29h-2.60zM448.17 510.01h2.60V511.20h-2.60zM453.94 521.84h2.60V523.02h-2.60zM455.86 533.00h2.60V534.85h-2.60zM457.79 520.52h2.60V522.37h-2.60zM459.71 496.22h2.60V498.06h-2.60zM461.63 493.59h2.60V494.12h-2.60zM463.56 508.70h2.60V509.23h-2.60zM467.41 496.22h2.60V498.06h-2.60zM471.25 485.74h2.60V487.53h-2.60zM473.18 490.97h2.60V491.50h-2.60zM475.10 464.04h2.60V465.88h-2.60zM478.95 460.78h2.60V461.91h-2.60zM480.87 490.31h2.60V490.84h-2.60zM482.79 519.21h2.60V519.74h-2.60zM484.72 525.81h2.60V526.94h-2.60zM488.57 462.72h2.60V463.25h-2.60zM490.49 466.66h2.60V467.19h-2.60zM492.41 456.18h2.60V458.62h-2.60zM494.34 490.31h2.60V491.50h-2.60zM496.26 509.36h2.60V511.20h-2.60zM498.18 489.03h2.60V490.81h-2.60zM502.03 474.55h2.60V475.73h-2.60zM503.96 490.34h2.60V492.12h-2.60zM505.88 477.83h2.60V479.02h-2.60zM507.80 513.33h2.60V514.46h-2.60zM509.73 517.90h2.60V519.08h-2.60zM511.65 506.07h2.60V507.26h-2.60zM513.57 489.00h2.60V490.84h-2.60zM515.50 502.13h2.60V503.32h-2.60zM517.42 493.59h2.60V494.12h-2.60zM519.34 473.89h2.60V475.07h-2.60zM521.27 502.82h2.60V505.26h-2.60zM525.12 505.42h2.60V507.26h-2.60zM527.04 494.25h2.60V494.78h-2.60zM528.96 493.59h2.60V494.78h-2.60zM530.89 473.92h2.60V475.70h-2.60zM532.81 499.51h2.60V500.69h-2.60zM534.73 490.31h2.60V491.50h-2.60zM538.58 504.10h2.60V504.63h-2.60zM540.51 475.86h2.60V476.39h-2.60zM542.43 468.63h2.60V470.48h-2.60zM544.35 490.31h2.60V492.15h-2.60zM546.28 498.85h2.60V500.69h-2.60zM548.20 508.04h2.60V509.23h-2.60zM550.12 533.66h2.60V534.85h-2.60zM553.97 481.14h2.60V485.55h-2.60zM555.90 500.82h2.60V502.66h-2.60zM557.82 493.62h2.60V496.72h-2.60zM559.74 494.25h2.60V496.09h-2.60zM561.67 505.42h2.60V507.26h-2.60zM565.51 517.90h2.60V519.74h-2.60zM569.36 504.10h2.60V505.95h-2.60zM571.28 492.31h2.60V495.41h-2.60zM573.21 486.40h2.60V487.53h-2.60zM575.13 500.85h2.60V501.98h-2.60zM578.98 506.07h2.60V506.60h-2.60zM580.90 492.31h2.60V493.44h-2.60zM582.83 490.97h2.60V492.81h-2.60zM586.67 503.45h2.60V505.29h-2.60zM588.60 519.21h2.60V520.40h-2.60zM590.52 534.97h2.60V536.82h-2.60zM592.45 501.48h2.60V502.01h-2.60zM594.37 502.13h2.60V503.32h-2.60zM596.29 503.45h2.60V503.98h-2.60zM598.22 492.97h2.60V496.06h-2.60zM600.14 503.45h2.60V503.98h-2.60zM602.06 519.21h2.60V520.40h-2.60zM603.99 523.15h2.60V524.34h-2.60zM605.91 508.04h2.60V509.23h-2.60zM607.84 484.40h2.60V486.24h-2.60zM609.76 492.94h2.60V494.12h-2.60zM611.68 488.37h2.60V489.50h-2.60zM613.61 512.01h2.60V513.14h-2.60zM615.53 511.33h2.60V513.17h-2.60zM617.45 527.75h2.60V529.59h-2.60zM619.38 512.64h2.60V514.49h-2.60zM621.30 487.05h2.60V490.81h-2.60zM623.22 506.73h2.60V507.92h-2.60zM625.15 483.74h2.60V484.93h-2.60zM627.07 504.10h2.60V505.95h-2.60zM629.00 503.45h2.60V505.29h-2.60zM630.92 527.75h2.60V529.59h-2.60zM632.84 502.13h2.60V502.66h-2.60zM634.77 503.45h2.60V504.63h-2.60zM636.69 496.88h2.60V498.06h-2.60zM638.61 504.10h2.60V505.29h-2.60zM640.54 502.16h2.60V503.95h-2.60zM642.46 500.85h2.60V502.63h-2.60zM646.31 500.19h2.60V501.98h-2.60zM648.23 511.99h2.60V513.17h-2.60zM650.16 471.26h2.60V471.79h-2.60zM652.08 477.20h2.60V478.33h-2.60zM654.00 455.53h2.60V459.28h-2.60zM655.93 492.28h2.60V493.47h-2.60zM657.85 519.87h2.60V521.05h-2.60zM659.77 479.17h2.60V480.30h-2.60zM661.70 461.44h2.60V464.54h-2.60zM663.62 454.21h2.60V461.25h-2.60zM665.55 448.30h2.60V451.40h-2.60zM667.47 451.59h2.60V455.34h-2.60zM669.39 469.98h2.60V474.39h-2.60zM671.32 504.13h2.60V505.26h-2.60zM673.24 455.53h2.60V461.91h-2.60zM675.16 397.72h2.60V403.45h-2.60zM677.09 409.55h2.60V419.21h-2.60zM679.01 412.83h2.60V418.56h-2.60zM680.94 422.68h2.60V424.47h-2.60zM682.86 441.08h2.60V450.09h-2.60zM684.78 499.51h2.60V501.35h-2.60zM686.71 500.16h2.60V500.69h-2.60zM688.63 441.08h2.60V445.49h-2.60zM690.55 378.68h2.60V387.69h-2.60zM692.48 403.64h2.60V411.33h-2.60zM694.40 406.92h2.60V410.67h-2.60zM696.33 447.64h2.60V450.74h-2.60zM698.25 493.62h2.60V494.75h-2.60zM700.17 443.05h2.60V446.14h-2.60zM702.10 405.61h2.60V419.87h-2.60zM704.02 416.77h2.60V419.21h-2.60zM705.94 422.68h2.60V425.13h-2.60zM707.87 433.19h2.60V434.98h-2.60zM709.79 456.81h2.60V458.00h-2.60zM711.71 501.51h2.60V502.63h-2.60zM713.64 445.02h2.60V450.09h-2.60zM715.56 385.90h2.60V391.63h-2.60zM717.49 404.92h2.60V405.45h-2.60zM719.41 362.25h2.60V369.95h-2.60zM721.33 401.01h2.60V406.08h-2.60zM723.26 395.10h2.60V402.14h-2.60zM725.18 466.66h2.60V467.85h-2.60zM727.10 400.35h2.60V403.45h-2.60zM729.03 362.91h2.60V366.01h-2.60zM730.95 337.95h2.60V345.65h-2.60zM732.88 353.72h2.60V359.44h-2.60zM734.80 342.55h2.60V345.65h-2.60zM736.72 389.84h2.60V396.22h-2.60zM738.65 424.00h2.60V426.44h-2.60zM740.57 321.53h2.60V327.26h-2.60zM742.49 318.90h2.60V332.51h-2.60zM744.42 224.97h2.60V233.98h-2.60zM746.34 240.08h2.60V243.84h-2.60zM748.27 238.11h2.60V247.78h-2.60zM750.19 323.47h2.60V324.66h-2.60zM752.11 328.10h2.60V334.48h-2.60zM754.04 288.69h2.60V293.76h-2.60zM755.96 270.95h2.60V279.96h-2.60zM757.88 161.92h2.60V173.55h-2.60zM759.81 238.77h2.60V251.72h-2.60zM761.73 295.91h2.60V299.01h-2.60z"/>
<path fill="#6A2CA0" d="M171.16 541.54h2.60V543.39h-2.60zM225.02 536.95h2.60V538.79h-2.60zM238.48 525.12h2.60V526.97h-2.60zM244.26 500.16h2.60V502.01h-2.60zM248.10 506.73h2.60V508.57h-2.60zM250.03 494.25h2.60V495.44h-2.60zM259.65 508.07h2.60V510.51h-2.60zM263.49 514.61h2.60V515.80h-2.60zM265.42 523.15h2.60V524.99h-2.60zM269.26 533.66h2.60V535.50h-2.60zM276.96 524.47h2.60V525.65h-2.60zM278.88 532.35h2.60V533.53h-2.60zM280.81 536.95h2.60V538.79h-2.60zM296.20 533.66h2.60V535.50h-2.60zM301.97 538.26h2.60V540.10h-2.60zM303.89 536.29h2.60V538.13h-2.60zM305.81 533.66h2.60V535.50h-2.60zM307.74 536.95h2.60V538.79h-2.60zM309.66 533.66h2.60V535.50h-2.60zM313.51 523.15h2.60V523.68h-2.60zM319.28 538.92h2.60V540.76h-2.60zM350.06 540.89h2.60V542.73h-2.60zM369.30 540.23h2.60V542.07h-2.60zM375.07 540.89h2.60V542.73h-2.60zM400.08 536.95h2.60V538.79h-2.60zM409.69 527.09h2.60V528.94h-2.60zM421.24 525.78h2.60V527.62h-2.60zM438.55 511.99h2.60V513.83h-2.60zM446.24 499.51h2.60V500.69h-2.60zM450.09 523.81h2.60V525.65h-2.60zM463.56 506.73h2.60V508.57h-2.60zM471.25 483.74h2.60V485.58h-2.60zM473.18 489.00h2.60V490.84h-2.60zM477.02 471.92h2.60V473.10h-2.60zM484.72 523.81h2.60V525.65h-2.60zM486.64 499.51h2.60V500.69h-2.60zM492.41 454.18h2.60V456.03h-2.60zM498.18 487.03h2.60V488.87h-2.60zM500.11 480.46h2.60V480.99h-2.60zM505.88 476.52h2.60V478.36h-2.60zM507.80 511.33h2.60V511.86h-2.60zM513.57 487.71h2.60V488.84h-2.60zM515.50 500.82h2.60V501.35h-2.60zM523.19 510.01h2.60V511.86h-2.60zM525.12 504.76h2.60V505.29h-2.60zM528.96 491.00h2.60V492.78h-2.60zM530.89 471.92h2.60V473.76h-2.60zM532.81 498.19h2.60V500.03h-2.60zM536.66 522.49h2.60V524.34h-2.60zM538.58 502.13h2.60V503.32h-2.60zM544.35 489.65h2.60V490.84h-2.60zM546.28 498.19h2.60V500.03h-2.60zM550.12 532.35h2.60V534.19h-2.60zM553.97 477.86h2.60V479.64h-2.60zM555.90 500.16h2.60V502.01h-2.60zM557.82 491.62h2.60V493.47h-2.60zM559.74 493.59h2.60V494.12h-2.60zM561.67 504.76h2.60V505.95h-2.60zM573.21 484.40h2.60V486.24h-2.60zM577.06 531.69h2.60V532.88h-2.60zM580.90 490.31h2.60V492.15h-2.60zM584.75 500.16h2.60V501.35h-2.60zM592.45 499.51h2.60V501.35h-2.60zM594.37 500.82h2.60V501.35h-2.60zM596.29 501.48h2.60V502.01h-2.60zM600.14 501.48h2.60V503.32h-2.60zM605.91 506.73h2.60V508.57h-2.60zM609.76 491.62h2.60V492.81h-2.60zM613.61 510.01h2.60V511.86h-2.60zM615.53 510.67h2.60V512.51h-2.60zM619.38 511.99h2.60V513.17h-2.60zM621.30 485.05h2.60V486.24h-2.60zM627.07 503.45h2.60V505.29h-2.60zM646.31 498.19h2.60V499.38h-2.60zM648.23 510.67h2.60V512.51h-2.60zM652.08 475.20h2.60V475.73h-2.60zM654.00 453.53h2.60V454.71h-2.60zM661.70 458.81h2.60V459.94h-2.60zM663.62 448.96h2.60V452.71h-2.60zM665.55 446.30h2.60V448.14h-2.60zM667.47 446.99h2.60V450.09h-2.60zM669.39 467.98h2.60V469.82h-2.60zM671.32 502.13h2.60V503.98h-2.60zM675.16 395.10h2.60V396.22h-2.60zM677.09 407.55h2.60V408.73h-2.60zM679.01 406.92h2.60V411.33h-2.60zM680.94 418.74h2.60V421.18h-2.60zM682.86 438.45h2.60V439.58h-2.60zM684.78 498.22h2.60V499.35h-2.60zM688.63 439.08h2.60V440.92h-2.60zM690.55 376.68h2.60V378.52h-2.60zM692.48 401.01h2.60V402.14h-2.60zM694.40 403.64h2.60V405.42h-2.60zM698.25 491.00h2.60V492.12h-2.60zM700.17 441.05h2.60V442.23h-2.60zM702.10 403.61h2.60V405.45h-2.60zM704.02 414.77h2.60V415.30h-2.60zM705.94 420.68h2.60V421.21h-2.60zM707.87 424.00h2.60V431.69h-2.60zM709.79 455.50h2.60V456.03h-2.60zM711.71 499.51h2.60V500.69h-2.60zM717.49 402.95h2.60V404.14h-2.60zM719.41 357.66h2.60V360.75h-2.60zM721.33 398.38h2.60V399.51h-2.60zM723.26 393.10h2.60V394.28h-2.60zM725.18 465.35h2.60V466.54h-2.60zM727.10 395.75h2.60V398.85h-2.60zM729.03 357.66h2.60V361.41h-2.60zM730.95 335.32h2.60V336.45h-2.60zM732.88 350.43h2.60V352.22h-2.60zM734.80 337.29h2.60V341.05h-2.60zM736.72 387.84h2.60V389.69h-2.60zM738.65 420.71h2.60V422.50h-2.60zM740.57 316.93h2.60V320.03h-2.60zM742.49 316.90h2.60V317.43h-2.60zM744.42 221.03h2.60V223.47h-2.60zM746.34 238.08h2.60V239.27h-2.60zM748.27 230.89h2.60V236.61h-2.60zM750.19 320.22h2.60V322.66h-2.60zM752.11 324.81h2.60V326.60h-2.60zM754.04 284.75h2.60V287.19h-2.60zM755.96 262.41h2.60V269.45h-2.60zM757.88 157.98h2.60V160.42h-2.60zM759.81 235.48h2.60V237.27h-2.60zM761.73 293.29h2.60V294.41h-2.60z"/>
<path fill="#8E2890" d="M498.18 486.37h2.60V488.21h-2.60zM509.73 516.58h2.60V518.43h-2.60zM596.29 499.51h2.60V501.35h-2.60zM615.53 510.01h2.60V511.86h-2.60zM654.00 452.21h2.60V454.06h-2.60zM694.40 401.64h2.60V402.82h-2.60zM696.33 445.64h2.60V447.49h-2.60zM705.94 418.71h2.60V420.56h-2.60zM719.41 355.66h2.60V356.84h-2.60zM721.33 396.38h2.60V398.22h-2.60zM725.18 464.04h2.60V465.88h-2.60zM729.03 355.66h2.60V356.84h-2.60zM730.95 333.32h2.60V334.51h-2.60zM740.57 314.93h2.60V316.12h-2.60zM744.42 219.03h2.60V219.56h-2.60zM748.27 228.89h2.60V229.42h-2.60zM755.96 260.41h2.60V260.94h-2.60z"/>
<path fill="#601C1C" d="M223.10 534.32h2.60V536.16h-2.60zM284.65 525.78h2.60V527.62h-2.60zM430.85 525.78h2.60V527.62h-2.60zM440.47 523.15h2.60V524.99h-2.60zM453.94 520.52h2.60V522.37h-2.60zM657.85 518.55h2.60V520.40h-2.60zM746.34 236.77h2.60V238.61h-2.60z"/>
<path fill="#FDB924" d="M605.91 506.07h2.60V507.92h-2.60zM611.68 486.37h2.60V488.21h-2.60z"/>
</svg>
</body></html>
